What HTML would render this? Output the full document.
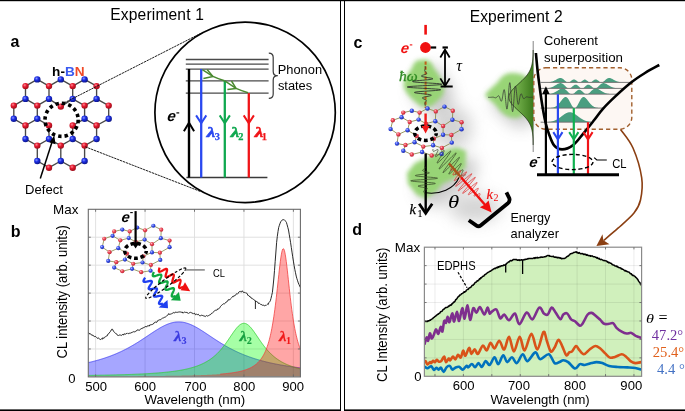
<!DOCTYPE html>
<html><head><meta charset="utf-8"><style>
html,body{margin:0;padding:0;background:#fff;}
svg{display:block;will-change:transform;}
text{white-space:pre;}
</style></head><body>
<svg width="685" height="411" viewBox="0 0 685 411">
<defs>
<radialGradient id="gR" cx="0.38" cy="0.35" r="0.7"><stop offset="0" stop-color="#ff8a96"/><stop offset="0.4" stop-color="#e41a30"/><stop offset="1" stop-color="#980a16"/></radialGradient>
<radialGradient id="gB" cx="0.38" cy="0.35" r="0.7"><stop offset="0" stop-color="#8a96ff"/><stop offset="0.4" stop-color="#1c2ee6"/><stop offset="1" stop-color="#0a1280"/></radialGradient>
<radialGradient id="gR2" cx="0.38" cy="0.35" r="0.7"><stop offset="0" stop-color="#ffc0c4"/><stop offset="0.4" stop-color="#ec4656"/><stop offset="1" stop-color="#b82434"/></radialGradient>
<radialGradient id="gB2" cx="0.38" cy="0.35" r="0.7"><stop offset="0" stop-color="#c0c8ff"/><stop offset="0.4" stop-color="#3c54ee"/><stop offset="1" stop-color="#1c2aa8"/></radialGradient>
<radialGradient id="gGlow" cx="0.5" cy="0.5" r="0.5"><stop offset="0" stop-color="#8fd46a" stop-opacity="0.95"/><stop offset="0.6" stop-color="#a8dc88" stop-opacity="0.7"/><stop offset="1" stop-color="#c8ecb4" stop-opacity="0"/></radialGradient>
<radialGradient id="gShadow" cx="0.5" cy="0.5" r="0.5"><stop offset="0" stop-color="#000" stop-opacity="0.22"/><stop offset="1" stop-color="#000" stop-opacity="0"/></radialGradient>
<linearGradient id="gProf" x1="0" y1="0" x2="1" y2="0"><stop offset="0" stop-color="#8cc860"/><stop offset="1" stop-color="#3c7a1c"/></linearGradient>
<clipPath id="clipD"><rect x="424.4" y="247.2" width="217.2" height="129.1"/></clipPath>
<filter id="blur2" x="-50%" y="-50%" width="200%" height="200%"><feGaussianBlur stdDeviation="2.2"/></filter>
<filter id="blur3" x="-50%" y="-50%" width="200%" height="200%"><feGaussianBlur stdDeviation="3"/></filter>
<filter id="blur5" x="-50%" y="-50%" width="200%" height="200%"><feGaussianBlur stdDeviation="5"/></filter>
<filter id="blur8" x="-50%" y="-50%" width="200%" height="200%"><feGaussianBlur stdDeviation="8"/></filter>
</defs>
<rect x="0" y="0" width="685" height="1.2" fill="#000"/>
<rect x="340" y="0" width="1" height="411" fill="#000"/>
<rect x="344" y="0" width="1" height="411" fill="#000"/>
<rect x="0" y="409.4" width="341" height="1.6" fill="#000"/>
<rect x="344" y="409.4" width="341" height="1.6" fill="#000"/>
<text x="110.3" y="19.8" font-family="Liberation Sans" font-size="15.6" font-weight="normal" font-style="normal" fill="#000" text-anchor="start" letter-spacing="0.15">Experiment 1</text>
<text x="469.7" y="22.1" font-family="Liberation Sans" font-size="15.6" font-weight="normal" font-style="normal" fill="#000" text-anchor="start" letter-spacing="0.1">Experiment 2</text>
<text x="10.6" y="46.6" font-family="Liberation Sans" font-size="16" font-weight="bold" font-style="normal" fill="#000" text-anchor="start" >a</text>
<text x="10.8" y="237.2" font-family="Liberation Sans" font-size="16" font-weight="bold" font-style="normal" fill="#000" text-anchor="start" >b</text>
<text x="353.6" y="48.4" font-family="Liberation Sans" font-size="16" font-weight="bold" font-style="normal" fill="#000" text-anchor="start" >c</text>
<text x="352.2" y="235.4" font-family="Liberation Sans" font-size="16" font-weight="bold" font-style="normal" fill="#000" text-anchor="start" >d</text>
<path d="M37.3,79.4L25.5,86.1M37.3,79.4L49,86.1M60.8,79.4L49,86.1M60.8,79.4L72.7,86.1M84.6,79.4L72.7,86.1M84.6,79.4L96.6,86.1M25.5,86.1L25.5,98.9M49,86.1L49,98.9M72.7,86.1L72.7,98.9M96.6,86.1L96.6,98.9M25.5,98.9L13.8,105.6M25.5,98.9L37.3,105.6M49,98.9L37.3,105.6M49,98.9L60.8,106.6M72.7,98.9L60.8,106.6M72.7,98.9L84.6,105.6M96.6,98.9L84.6,105.6M96.6,98.9L108.7,105.6M13.8,105.6L13.8,118.8M37.3,105.6L37.3,118.8M84.6,105.6L84.6,118.8M108.7,105.6L108.7,118.8M13.8,118.8L25.5,125.5M37.3,118.8L25.5,125.5M37.3,118.8L49,125.5M84.6,118.8L72.7,125.5M84.6,118.8L96.6,125.5M108.7,118.8L96.6,125.5M25.5,125.5L25.5,139M49,125.5L49,139M72.7,125.5L72.7,139M96.6,125.5L96.6,139M25.5,139L37.3,145.6M49,139L37.3,145.6M49,139L60.8,145.6M72.7,139L60.8,145.6M72.7,139L84.6,145.6M96.6,139L84.6,145.6M37.3,145.6L37.3,161M60.8,145.6L60.8,161M84.6,145.6L84.6,161M37.3,161L49,167.7M60.8,161L49,167.7M60.8,161L72.7,167.7M84.6,161L72.7,167.7" stroke="#484848" stroke-width="1.35" fill="none" />
<circle cx="37.3" cy="79.4" r="3.2" fill="url(#gB)"/>
<circle cx="60.8" cy="79.4" r="3.2" fill="url(#gB)"/>
<circle cx="84.6" cy="79.4" r="3.2" fill="url(#gB)"/>
<circle cx="25.5" cy="86.1" r="3.2" fill="url(#gR)"/>
<circle cx="49" cy="86.1" r="3.2" fill="url(#gR)"/>
<circle cx="72.7" cy="86.1" r="3.2" fill="url(#gR)"/>
<circle cx="96.6" cy="86.1" r="3.2" fill="url(#gR)"/>
<circle cx="25.5" cy="98.9" r="3.2" fill="url(#gB)"/>
<circle cx="49" cy="98.9" r="3.2" fill="url(#gB)"/>
<circle cx="72.7" cy="98.9" r="3.2" fill="url(#gB)"/>
<circle cx="96.6" cy="98.9" r="3.2" fill="url(#gB)"/>
<circle cx="13.8" cy="105.6" r="3.2" fill="url(#gR)"/>
<circle cx="37.3" cy="105.6" r="3.2" fill="url(#gR)"/>
<circle cx="60.8" cy="106.6" r="3.2" fill="url(#gR)"/>
<circle cx="84.6" cy="105.6" r="3.2" fill="url(#gR)"/>
<circle cx="108.7" cy="105.6" r="3.2" fill="url(#gR)"/>
<circle cx="13.8" cy="118.8" r="3.2" fill="url(#gB)"/>
<circle cx="37.3" cy="118.8" r="3.2" fill="url(#gB)"/>
<circle cx="84.6" cy="118.8" r="3.2" fill="url(#gB)"/>
<circle cx="108.7" cy="118.8" r="3.2" fill="url(#gB)"/>
<circle cx="25.5" cy="125.5" r="3.2" fill="url(#gR)"/>
<circle cx="49" cy="125.5" r="3.2" fill="url(#gR)"/>
<circle cx="72.7" cy="125.5" r="3.2" fill="url(#gR)"/>
<circle cx="96.6" cy="125.5" r="3.2" fill="url(#gR)"/>
<circle cx="25.5" cy="139" r="3.2" fill="url(#gB)"/>
<circle cx="49" cy="139" r="3.2" fill="url(#gB)"/>
<circle cx="72.7" cy="139" r="3.2" fill="url(#gB)"/>
<circle cx="96.6" cy="139" r="3.2" fill="url(#gB)"/>
<circle cx="37.3" cy="145.6" r="3.2" fill="url(#gR)"/>
<circle cx="60.8" cy="145.6" r="3.2" fill="url(#gR)"/>
<circle cx="84.6" cy="145.6" r="3.2" fill="url(#gR)"/>
<circle cx="37.3" cy="161" r="3.2" fill="url(#gB)"/>
<circle cx="60.8" cy="161" r="3.2" fill="url(#gB)"/>
<circle cx="84.6" cy="161" r="3.2" fill="url(#gB)"/>
<circle cx="49" cy="167.7" r="3.2" fill="url(#gR)"/>
<circle cx="72.7" cy="167.7" r="3.2" fill="url(#gR)"/>
<text x="52.1" y="75.5" font-family="Liberation Sans" font-size="13.6" font-weight="bold">h-<tspan fill="#3a5af0">B</tspan><tspan fill="#f04a28">N</tspan></text>
<circle cx="61.6" cy="119.8" r="16.6" fill="none" stroke="#000" stroke-width="3.6" stroke-dasharray="3.4,3.1"/>
<line x1="40.3" y1="178.4" x2="52.2" y2="141.5" stroke="#000" stroke-width="1.5" stroke-linecap="butt" />
<path d="M54.2,135.6 L49.4,142.6 L55.6,144.2 Z" stroke="none" stroke-width="1" fill="#000" />
<text x="25.1" y="193.9" font-family="Liberation Sans" font-size="13.05" font-weight="normal" font-style="normal" fill="#000" text-anchor="start" >Defect</text>
<line x1="61" y1="104.5" x2="200.5" y2="33.5" stroke="#111" stroke-width="0.95" stroke-linecap="butt" stroke-dasharray="2.4,0.7" />
<line x1="85.3" y1="146.8" x2="200.5" y2="191.5" stroke="#111" stroke-width="0.95" stroke-linecap="butt" stroke-dasharray="2.4,0.7" />
<circle cx="245.1" cy="112.4" r="90.2" fill="none" stroke="#000" stroke-width="1.7"/>
<line x1="185.8" y1="59.5" x2="268.6" y2="59.5" stroke="#4a4a4a" stroke-width="1.3" stroke-linecap="butt" />
<line x1="185.8" y1="64.2" x2="268.6" y2="64.2" stroke="#4a4a4a" stroke-width="1.3" stroke-linecap="butt" />
<line x1="185.8" y1="69.1" x2="268.6" y2="69.1" stroke="#4a4a4a" stroke-width="1.3" stroke-linecap="butt" />
<line x1="185.8" y1="80.8" x2="268.6" y2="80.8" stroke="#4a4a4a" stroke-width="1.3" stroke-linecap="butt" />
<line x1="185.8" y1="93.1" x2="268.6" y2="93.1" stroke="#4a4a4a" stroke-width="1.3" stroke-linecap="butt" />
<line x1="186.4" y1="177.5" x2="267.4" y2="177.5" stroke="#3a3a3a" stroke-width="1.5" stroke-linecap="butt" />
<line x1="189" y1="69" x2="189" y2="177.5" stroke="#000" stroke-width="2.4" stroke-linecap="butt" />
<line x1="201.2" y1="69" x2="201.2" y2="177.5" stroke="#2a48f0" stroke-width="2.3" stroke-linecap="butt" />
<line x1="224.8" y1="80.8" x2="224.8" y2="177.5" stroke="#10a850" stroke-width="2.3" stroke-linecap="butt" />
<line x1="248.8" y1="93.1" x2="248.8" y2="177.5" stroke="#f01418" stroke-width="2.3" stroke-linecap="butt" />
<path d="M183.9,131.2 L189,122.7 L194.1,131.2" stroke="#000" stroke-width="2" fill="none" stroke-linejoin="miter" stroke-linecap="butt"/>
<path d="M196.1,115.4 L201.2,123.2 L206.3,115.4" stroke="#2a48f0" stroke-width="2" fill="none" stroke-linejoin="miter" stroke-linecap="butt"/>
<path d="M219.7,115.4 L224.8,123.2 L229.9,115.4" stroke="#10a850" stroke-width="2" fill="none" stroke-linejoin="miter" stroke-linecap="butt"/>
<path d="M243.7,115.4 L248.8,123.2 L253.9,115.4" stroke="#f01418" stroke-width="2" fill="none" stroke-linejoin="miter" stroke-linecap="butt"/>
<path d="M202.3,69.7 L212.9,76.4 Q218,78.8 224.5,80.7" stroke="#4a8a30" stroke-width="1.5" fill="none" stroke-linejoin="round"/>
<path d="M207.1,69.4 L212.9,76.4 L203.4,78.5" stroke="#4a8a30" stroke-width="1.5" fill="none" stroke-linejoin="round"/>
<path d="M224.8,80.8 L236,88.4 Q241.5,90.8 248,92.7" stroke="#4a8a30" stroke-width="1.5" fill="none" stroke-linejoin="round"/>
<path d="M231.5,81 L236,88.4 L227.4,89.6" stroke="#4a8a30" stroke-width="1.5" fill="none" stroke-linejoin="round"/>
<path d="M268.8,53.2 Q273.2,53.2 273.2,57.6 L273.2,71.4 Q273.2,75.7 277.8,75.7 Q273.2,75.7 273.2,80 L273.2,93.9 Q273.2,98.3 268.8,98.3" stroke="#3a3a3a" stroke-width="1.2" fill="none" />
<text x="277.75" y="73.6" font-family="Liberation Sans" font-size="12.85" font-weight="normal" font-style="normal" fill="#000" text-anchor="start" >Phonon</text>
<text x="277.9" y="90.3" font-family="Liberation Sans" font-size="12.85" font-weight="normal" font-style="normal" fill="#000" text-anchor="start" >states</text>
<text transform="translate(166.79999999999998,121.4) skewX(-9)" font-family="Liberation Sans" font-weight="bold" font-style="italic" font-size="15" fill="#000">e</text>
<line x1="176.4" y1="112.9" x2="179.2" y2="112.9" stroke="#000" stroke-width="1.2" stroke-linecap="butt" />
<text transform="translate(206.75,136.9) scale(1.38,1)" font-family="Liberation Serif" font-weight="bold" font-style="italic" font-size="13.9" fill="#2a48f0" stroke="#2a48f0" stroke-width="0.55">&#955;</text>
<text x="214.69" y="139.8" font-family="Liberation Serif" font-weight="bold" font-size="10.4" fill="#2a48f0" stroke="#2a48f0" stroke-width="0.25">3</text>
<text transform="translate(230.75,136.9) scale(1.38,1)" font-family="Liberation Serif" font-weight="bold" font-style="italic" font-size="13.9" fill="#10a850" stroke="#10a850" stroke-width="0.55">&#955;</text>
<text x="238.29" y="139.8" font-family="Liberation Serif" font-weight="bold" font-size="10.4" fill="#10a850" stroke="#10a850" stroke-width="0.25">2</text>
<text transform="translate(254.75,136.9) scale(1.38,1)" font-family="Liberation Serif" font-weight="bold" font-style="italic" font-size="13.9" fill="#f01418" stroke="#f01418" stroke-width="0.55">&#955;</text>
<text x="261.67" y="139.8" font-family="Liberation Serif" font-weight="bold" font-size="10.4" fill="#f01418" stroke="#f01418" stroke-width="0.25">1</text>
<line x1="95.6" y1="209.3" x2="95.6" y2="376.9" stroke="#dedede" stroke-width="0.9" stroke-linecap="butt" />
<line x1="145.05" y1="209.3" x2="145.05" y2="376.9" stroke="#dedede" stroke-width="0.9" stroke-linecap="butt" />
<line x1="194.5" y1="209.3" x2="194.5" y2="376.9" stroke="#dedede" stroke-width="0.9" stroke-linecap="butt" />
<line x1="243.95" y1="209.3" x2="243.95" y2="376.9" stroke="#dedede" stroke-width="0.9" stroke-linecap="butt" />
<line x1="293.4" y1="209.3" x2="293.4" y2="376.9" stroke="#dedede" stroke-width="0.9" stroke-linecap="butt" />
<line x1="88.3" y1="237.23" x2="300.4" y2="237.23" stroke="#dedede" stroke-width="0.9" stroke-linecap="butt" />
<line x1="88.3" y1="265.17" x2="300.4" y2="265.17" stroke="#dedede" stroke-width="0.9" stroke-linecap="butt" />
<line x1="88.3" y1="293.1" x2="300.4" y2="293.1" stroke="#dedede" stroke-width="0.9" stroke-linecap="butt" />
<line x1="88.3" y1="321.03" x2="300.4" y2="321.03" stroke="#dedede" stroke-width="0.9" stroke-linecap="butt" />
<line x1="88.3" y1="348.97" x2="300.4" y2="348.97" stroke="#dedede" stroke-width="0.9" stroke-linecap="butt" />
<path d="M88.3,362.61 L88.8,362.49 L89.3,362.37 L89.8,362.26 L90.3,362.14 L90.8,362.02 L91.3,361.89 L91.8,361.77 L92.3,361.64 L92.8,361.52 L93.3,361.39 L93.8,361.26 L94.3,361.13 L94.8,361 L95.3,360.86 L95.8,360.73 L96.3,360.59 L96.8,360.45 L97.3,360.31 L97.8,360.17 L98.3,360.03 L98.8,359.89 L99.3,359.74 L99.8,359.59 L100.3,359.44 L100.8,359.29 L101.3,359.14 L101.8,358.98 L102.3,358.83 L102.8,358.67 L103.3,358.51 L103.8,358.35 L104.3,358.19 L104.8,358.02 L105.3,357.85 L105.8,357.69 L106.3,357.51 L106.8,357.34 L107.3,357.17 L107.8,356.99 L108.3,356.81 L108.8,356.63 L109.3,356.45 L109.8,356.27 L110.3,356.08 L110.8,355.89 L111.3,355.7 L111.8,355.51 L112.3,355.31 L112.8,355.12 L113.3,354.92 L113.8,354.72 L114.3,354.51 L114.8,354.31 L115.3,354.1 L115.8,353.89 L116.3,353.68 L116.8,353.46 L117.3,353.24 L117.8,353.03 L118.3,352.8 L118.8,352.58 L119.3,352.35 L119.8,352.13 L120.3,351.9 L120.8,351.66 L121.3,351.43 L121.8,351.19 L122.3,350.95 L122.8,350.71 L123.3,350.46 L123.8,350.21 L124.3,349.96 L124.8,349.71 L125.3,349.46 L125.8,349.2 L126.3,348.94 L126.8,348.68 L127.3,348.41 L127.8,348.14 L128.3,347.88 L128.8,347.6 L129.3,347.33 L129.8,347.05 L130.3,346.77 L130.8,346.49 L131.3,346.21 L131.8,345.92 L132.3,345.63 L132.8,345.34 L133.3,345.05 L133.8,344.76 L134.3,344.46 L134.8,344.16 L135.3,343.86 L135.8,343.55 L136.3,343.25 L136.8,342.94 L137.3,342.63 L137.8,342.32 L138.3,342 L138.8,341.69 L139.3,341.37 L139.8,341.05 L140.3,340.73 L140.8,340.41 L141.3,340.08 L141.8,339.76 L142.3,339.43 L142.8,339.1 L143.3,338.77 L143.8,338.44 L144.3,338.11 L144.8,337.78 L145.3,337.45 L145.8,337.12 L146.3,336.78 L146.8,336.45 L147.3,336.11 L147.8,335.78 L148.3,335.44 L148.8,335.11 L149.3,334.77 L149.8,334.44 L150.3,334.1 L150.8,333.77 L151.3,333.44 L151.8,333.1 L152.3,332.77 L152.8,332.44 L153.3,332.12 L153.8,331.79 L154.3,331.47 L154.8,331.14 L155.3,330.82 L155.8,330.51 L156.3,330.19 L156.8,329.88 L157.3,329.57 L157.8,329.26 L158.3,328.96 L158.8,328.66 L159.3,328.36 L159.8,328.07 L160.3,327.78 L160.8,327.5 L161.3,327.22 L161.8,326.95 L162.3,326.68 L162.8,326.42 L163.3,326.16 L163.8,325.91 L164.3,325.66 L164.8,325.42 L165.3,325.19 L165.8,324.96 L166.3,324.74 L166.8,324.53 L167.3,324.32 L167.8,324.12 L168.3,323.93 L168.8,323.74 L169.3,323.57 L169.8,323.4 L170.3,323.24 L170.8,323.09 L171.3,322.95 L171.8,322.81 L172.3,322.69 L172.8,322.57 L173.3,322.46 L173.8,322.36 L174.3,322.27 L174.8,322.19 L175.3,322.12 L175.8,322.06 L176.3,322.01 L176.8,321.97 L177.3,321.94 L177.8,321.92 L178.3,321.9 L178.8,321.9 L179.3,321.91 L179.8,321.92 L180.3,321.95 L180.8,321.99 L181.3,322.03 L181.8,322.09 L182.3,322.15 L182.8,322.23 L183.3,322.31 L183.8,322.4 L184.3,322.5 L184.8,322.62 L185.3,322.74 L185.8,322.86 L186.3,323 L186.8,323.15 L187.3,323.3 L187.8,323.47 L188.3,323.64 L188.8,323.82 L189.3,324 L189.8,324.2 L190.3,324.4 L190.8,324.61 L191.3,324.83 L191.8,325.05 L192.3,325.28 L192.8,325.52 L193.3,325.76 L193.8,326.01 L194.3,326.26 L194.8,326.52 L195.3,326.79 L195.8,327.06 L196.3,327.33 L196.8,327.61 L197.3,327.9 L197.8,328.19 L198.3,328.48 L198.8,328.78 L199.3,329.08 L199.8,329.38 L200.3,329.69 L200.8,330 L201.3,330.32 L201.8,330.63 L202.3,330.95 L202.8,331.27 L203.3,331.6 L203.8,331.92 L204.3,332.25 L204.8,332.58 L205.3,332.91 L205.8,333.24 L206.3,333.57 L206.8,333.9 L207.3,334.24 L207.8,334.57 L208.3,334.91 L208.8,335.24 L209.3,335.58 L209.8,335.91 L210.3,336.25 L210.8,336.58 L211.3,336.91 L211.8,337.25 L212.3,337.58 L212.8,337.91 L213.3,338.25 L213.8,338.58 L214.3,338.91 L214.8,339.24 L215.3,339.56 L215.8,339.89 L216.3,340.21 L216.8,340.54 L217.3,340.86 L217.8,341.18 L218.3,341.5 L218.8,341.81 L219.3,342.13 L219.8,342.44 L220.3,342.75 L220.8,343.06 L221.3,343.37 L221.8,343.67 L222.3,343.98 L222.8,344.28 L223.3,344.58 L223.8,344.87 L224.3,345.17 L224.8,345.46 L225.3,345.75 L225.8,346.04 L226.3,346.32 L226.8,346.61 L227.3,346.89 L227.8,347.16 L228.3,347.44 L228.8,347.71 L229.3,347.98 L229.8,348.25 L230.3,348.52 L230.8,348.78 L231.3,349.04 L231.8,349.3 L232.3,349.56 L232.8,349.81 L233.3,350.06 L233.8,350.31 L234.3,350.56 L234.8,350.8 L235.3,351.04 L235.8,351.28 L236.3,351.52 L236.8,351.76 L237.3,351.99 L237.8,352.22 L238.3,352.45 L238.8,352.67 L239.3,352.89 L239.8,353.11 L240.3,353.33 L240.8,353.55 L241.3,353.76 L241.8,353.97 L242.3,354.18 L242.8,354.39 L243.3,354.59 L243.8,354.8 L244.3,355 L244.8,355.19 L245.3,355.39 L245.8,355.58 L246.3,355.78 L246.8,355.97 L247.3,356.15 L247.8,356.34 L248.3,356.52 L248.8,356.7 L249.3,356.88 L249.8,357.06 L250.3,357.24 L250.8,357.41 L251.3,357.58 L251.8,357.75 L252.3,357.92 L252.8,358.09 L253.3,358.25 L253.8,358.41 L254.3,358.57 L254.8,358.73 L255.3,358.89 L255.8,359.05 L256.3,359.2 L256.8,359.35 L257.3,359.5 L257.8,359.65 L258.3,359.8 L258.8,359.94 L259.3,360.09 L259.8,360.23 L260.3,360.37 L260.8,360.51 L261.3,360.65 L261.8,360.78 L262.3,360.92 L262.8,361.05 L263.3,361.18 L263.8,361.31 L264.3,361.44 L264.8,361.57 L265.3,361.69 L265.8,361.82 L266.3,361.94 L266.8,362.06 L267.3,362.18 L267.8,362.3 L268.3,362.42 L268.8,362.54 L269.3,362.65 L269.8,362.77 L270.3,362.88 L270.8,362.99 L271.3,363.1 L271.8,363.21 L272.3,363.32 L272.8,363.43 L273.3,363.53 L273.8,363.64 L274.3,363.74 L274.8,363.84 L275.3,363.94 L275.8,364.04 L276.3,364.14 L276.8,364.24 L277.3,364.34 L277.8,364.43 L278.3,364.53 L278.8,364.62 L279.3,364.72 L279.8,364.81 L280.3,364.9 L280.8,364.99 L281.3,365.08 L281.8,365.17 L282.3,365.25 L282.8,365.34 L283.3,365.43 L283.8,365.51 L284.3,365.59 L284.8,365.68 L285.3,365.76 L285.8,365.84 L286.3,365.92 L286.8,366 L287.3,366.08 L287.8,366.16 L288.3,366.23 L288.8,366.31 L289.3,366.38 L289.8,366.46 L290.3,366.53 L290.8,366.61 L291.3,366.68 L291.8,366.75 L292.3,366.82 L292.8,366.89 L293.3,366.96 L293.8,367.03 L294.3,367.1 L294.8,367.17 L295.3,367.23 L295.8,367.3 L296.3,367.37 L296.8,367.43 L297.3,367.49 L297.8,367.56 L298.3,367.62 L298.8,367.68 L299.3,367.75 L299.8,367.81 L300.3,367.87 L300.4,376.6 L88.3,376.6 Z" stroke="none" stroke-width="1" fill="#0000ff" fill-opacity="0.35"/>
<path d="M88.3,362.61 L88.8,362.49 L89.3,362.37 L89.8,362.26 L90.3,362.14 L90.8,362.02 L91.3,361.89 L91.8,361.77 L92.3,361.64 L92.8,361.52 L93.3,361.39 L93.8,361.26 L94.3,361.13 L94.8,361 L95.3,360.86 L95.8,360.73 L96.3,360.59 L96.8,360.45 L97.3,360.31 L97.8,360.17 L98.3,360.03 L98.8,359.89 L99.3,359.74 L99.8,359.59 L100.3,359.44 L100.8,359.29 L101.3,359.14 L101.8,358.98 L102.3,358.83 L102.8,358.67 L103.3,358.51 L103.8,358.35 L104.3,358.19 L104.8,358.02 L105.3,357.85 L105.8,357.69 L106.3,357.51 L106.8,357.34 L107.3,357.17 L107.8,356.99 L108.3,356.81 L108.8,356.63 L109.3,356.45 L109.8,356.27 L110.3,356.08 L110.8,355.89 L111.3,355.7 L111.8,355.51 L112.3,355.31 L112.8,355.12 L113.3,354.92 L113.8,354.72 L114.3,354.51 L114.8,354.31 L115.3,354.1 L115.8,353.89 L116.3,353.68 L116.8,353.46 L117.3,353.24 L117.8,353.03 L118.3,352.8 L118.8,352.58 L119.3,352.35 L119.8,352.13 L120.3,351.9 L120.8,351.66 L121.3,351.43 L121.8,351.19 L122.3,350.95 L122.8,350.71 L123.3,350.46 L123.8,350.21 L124.3,349.96 L124.8,349.71 L125.3,349.46 L125.8,349.2 L126.3,348.94 L126.8,348.68 L127.3,348.41 L127.8,348.14 L128.3,347.88 L128.8,347.6 L129.3,347.33 L129.8,347.05 L130.3,346.77 L130.8,346.49 L131.3,346.21 L131.8,345.92 L132.3,345.63 L132.8,345.34 L133.3,345.05 L133.8,344.76 L134.3,344.46 L134.8,344.16 L135.3,343.86 L135.8,343.55 L136.3,343.25 L136.8,342.94 L137.3,342.63 L137.8,342.32 L138.3,342 L138.8,341.69 L139.3,341.37 L139.8,341.05 L140.3,340.73 L140.8,340.41 L141.3,340.08 L141.8,339.76 L142.3,339.43 L142.8,339.1 L143.3,338.77 L143.8,338.44 L144.3,338.11 L144.8,337.78 L145.3,337.45 L145.8,337.12 L146.3,336.78 L146.8,336.45 L147.3,336.11 L147.8,335.78 L148.3,335.44 L148.8,335.11 L149.3,334.77 L149.8,334.44 L150.3,334.1 L150.8,333.77 L151.3,333.44 L151.8,333.1 L152.3,332.77 L152.8,332.44 L153.3,332.12 L153.8,331.79 L154.3,331.47 L154.8,331.14 L155.3,330.82 L155.8,330.51 L156.3,330.19 L156.8,329.88 L157.3,329.57 L157.8,329.26 L158.3,328.96 L158.8,328.66 L159.3,328.36 L159.8,328.07 L160.3,327.78 L160.8,327.5 L161.3,327.22 L161.8,326.95 L162.3,326.68 L162.8,326.42 L163.3,326.16 L163.8,325.91 L164.3,325.66 L164.8,325.42 L165.3,325.19 L165.8,324.96 L166.3,324.74 L166.8,324.53 L167.3,324.32 L167.8,324.12 L168.3,323.93 L168.8,323.74 L169.3,323.57 L169.8,323.4 L170.3,323.24 L170.8,323.09 L171.3,322.95 L171.8,322.81 L172.3,322.69 L172.8,322.57 L173.3,322.46 L173.8,322.36 L174.3,322.27 L174.8,322.19 L175.3,322.12 L175.8,322.06 L176.3,322.01 L176.8,321.97 L177.3,321.94 L177.8,321.92 L178.3,321.9 L178.8,321.9 L179.3,321.91 L179.8,321.92 L180.3,321.95 L180.8,321.99 L181.3,322.03 L181.8,322.09 L182.3,322.15 L182.8,322.23 L183.3,322.31 L183.8,322.4 L184.3,322.5 L184.8,322.62 L185.3,322.74 L185.8,322.86 L186.3,323 L186.8,323.15 L187.3,323.3 L187.8,323.47 L188.3,323.64 L188.8,323.82 L189.3,324 L189.8,324.2 L190.3,324.4 L190.8,324.61 L191.3,324.83 L191.8,325.05 L192.3,325.28 L192.8,325.52 L193.3,325.76 L193.8,326.01 L194.3,326.26 L194.8,326.52 L195.3,326.79 L195.8,327.06 L196.3,327.33 L196.8,327.61 L197.3,327.9 L197.8,328.19 L198.3,328.48 L198.8,328.78 L199.3,329.08 L199.8,329.38 L200.3,329.69 L200.8,330 L201.3,330.32 L201.8,330.63 L202.3,330.95 L202.8,331.27 L203.3,331.6 L203.8,331.92 L204.3,332.25 L204.8,332.58 L205.3,332.91 L205.8,333.24 L206.3,333.57 L206.8,333.9 L207.3,334.24 L207.8,334.57 L208.3,334.91 L208.8,335.24 L209.3,335.58 L209.8,335.91 L210.3,336.25 L210.8,336.58 L211.3,336.91 L211.8,337.25 L212.3,337.58 L212.8,337.91 L213.3,338.25 L213.8,338.58 L214.3,338.91 L214.8,339.24 L215.3,339.56 L215.8,339.89 L216.3,340.21 L216.8,340.54 L217.3,340.86 L217.8,341.18 L218.3,341.5 L218.8,341.81 L219.3,342.13 L219.8,342.44 L220.3,342.75 L220.8,343.06 L221.3,343.37 L221.8,343.67 L222.3,343.98 L222.8,344.28 L223.3,344.58 L223.8,344.87 L224.3,345.17 L224.8,345.46 L225.3,345.75 L225.8,346.04 L226.3,346.32 L226.8,346.61 L227.3,346.89 L227.8,347.16 L228.3,347.44 L228.8,347.71 L229.3,347.98 L229.8,348.25 L230.3,348.52 L230.8,348.78 L231.3,349.04 L231.8,349.3 L232.3,349.56 L232.8,349.81 L233.3,350.06 L233.8,350.31 L234.3,350.56 L234.8,350.8 L235.3,351.04 L235.8,351.28 L236.3,351.52 L236.8,351.76 L237.3,351.99 L237.8,352.22 L238.3,352.45 L238.8,352.67 L239.3,352.89 L239.8,353.11 L240.3,353.33 L240.8,353.55 L241.3,353.76 L241.8,353.97 L242.3,354.18 L242.8,354.39 L243.3,354.59 L243.8,354.8 L244.3,355 L244.8,355.19 L245.3,355.39 L245.8,355.58 L246.3,355.78 L246.8,355.97 L247.3,356.15 L247.8,356.34 L248.3,356.52 L248.8,356.7 L249.3,356.88 L249.8,357.06 L250.3,357.24 L250.8,357.41 L251.3,357.58 L251.8,357.75 L252.3,357.92 L252.8,358.09 L253.3,358.25 L253.8,358.41 L254.3,358.57 L254.8,358.73 L255.3,358.89 L255.8,359.05 L256.3,359.2 L256.8,359.35 L257.3,359.5 L257.8,359.65 L258.3,359.8 L258.8,359.94 L259.3,360.09 L259.8,360.23 L260.3,360.37 L260.8,360.51 L261.3,360.65 L261.8,360.78 L262.3,360.92 L262.8,361.05 L263.3,361.18 L263.8,361.31 L264.3,361.44 L264.8,361.57 L265.3,361.69 L265.8,361.82 L266.3,361.94 L266.8,362.06 L267.3,362.18 L267.8,362.3 L268.3,362.42 L268.8,362.54 L269.3,362.65 L269.8,362.77 L270.3,362.88 L270.8,362.99 L271.3,363.1 L271.8,363.21 L272.3,363.32 L272.8,363.43 L273.3,363.53 L273.8,363.64 L274.3,363.74 L274.8,363.84 L275.3,363.94 L275.8,364.04 L276.3,364.14 L276.8,364.24 L277.3,364.34 L277.8,364.43 L278.3,364.53 L278.8,364.62 L279.3,364.72 L279.8,364.81 L280.3,364.9 L280.8,364.99 L281.3,365.08 L281.8,365.17 L282.3,365.25 L282.8,365.34 L283.3,365.43 L283.8,365.51 L284.3,365.59 L284.8,365.68 L285.3,365.76 L285.8,365.84 L286.3,365.92 L286.8,366 L287.3,366.08 L287.8,366.16 L288.3,366.23 L288.8,366.31 L289.3,366.38 L289.8,366.46 L290.3,366.53 L290.8,366.61 L291.3,366.68 L291.8,366.75 L292.3,366.82 L292.8,366.89 L293.3,366.96 L293.8,367.03 L294.3,367.1 L294.8,367.17 L295.3,367.23 L295.8,367.3 L296.3,367.37 L296.8,367.43 L297.3,367.49 L297.8,367.56 L298.3,367.62 L298.8,367.68 L299.3,367.75 L299.8,367.81 L300.3,367.87" stroke="#3434ee" stroke-width="0.95" fill="none" stroke-opacity="0.8"/>
<path d="M88.3,375.43 L88.8,375.42 L89.3,375.42 L89.8,375.41 L90.3,375.4 L90.8,375.39 L91.3,375.39 L91.8,375.38 L92.3,375.37 L92.8,375.36 L93.3,375.35 L93.8,375.35 L94.3,375.34 L94.8,375.33 L95.3,375.32 L95.8,375.31 L96.3,375.3 L96.8,375.3 L97.3,375.29 L97.8,375.28 L98.3,375.27 L98.8,375.26 L99.3,375.25 L99.8,375.24 L100.3,375.23 L100.8,375.22 L101.3,375.21 L101.8,375.2 L102.3,375.19 L102.8,375.19 L103.3,375.18 L103.8,375.17 L104.3,375.16 L104.8,375.15 L105.3,375.14 L105.8,375.12 L106.3,375.11 L106.8,375.1 L107.3,375.09 L107.8,375.08 L108.3,375.07 L108.8,375.06 L109.3,375.05 L109.8,375.04 L110.3,375.03 L110.8,375.02 L111.3,375 L111.8,374.99 L112.3,374.98 L112.8,374.97 L113.3,374.96 L113.8,374.94 L114.3,374.93 L114.8,374.92 L115.3,374.91 L115.8,374.89 L116.3,374.88 L116.8,374.87 L117.3,374.85 L117.8,374.84 L118.3,374.83 L118.8,374.81 L119.3,374.8 L119.8,374.79 L120.3,374.77 L120.8,374.76 L121.3,374.74 L121.8,374.73 L122.3,374.71 L122.8,374.7 L123.3,374.68 L123.8,374.67 L124.3,374.65 L124.8,374.64 L125.3,374.62 L125.8,374.6 L126.3,374.59 L126.8,374.57 L127.3,374.55 L127.8,374.54 L128.3,374.52 L128.8,374.5 L129.3,374.48 L129.8,374.47 L130.3,374.45 L130.8,374.43 L131.3,374.41 L131.8,374.39 L132.3,374.37 L132.8,374.35 L133.3,374.33 L133.8,374.32 L134.3,374.3 L134.8,374.28 L135.3,374.25 L135.8,374.23 L136.3,374.21 L136.8,374.19 L137.3,374.17 L137.8,374.15 L138.3,374.13 L138.8,374.1 L139.3,374.08 L139.8,374.06 L140.3,374.03 L140.8,374.01 L141.3,373.99 L141.8,373.96 L142.3,373.94 L142.8,373.91 L143.3,373.89 L143.8,373.86 L144.3,373.83 L144.8,373.81 L145.3,373.78 L145.8,373.75 L146.3,373.73 L146.8,373.7 L147.3,373.67 L147.8,373.64 L148.3,373.61 L148.8,373.58 L149.3,373.55 L149.8,373.52 L150.3,373.49 L150.8,373.46 L151.3,373.43 L151.8,373.39 L152.3,373.36 L152.8,373.33 L153.3,373.29 L153.8,373.26 L154.3,373.22 L154.8,373.19 L155.3,373.15 L155.8,373.12 L156.3,373.08 L156.8,373.04 L157.3,373 L157.8,372.96 L158.3,372.92 L158.8,372.88 L159.3,372.84 L159.8,372.8 L160.3,372.76 L160.8,372.72 L161.3,372.67 L161.8,372.63 L162.3,372.58 L162.8,372.54 L163.3,372.49 L163.8,372.44 L164.3,372.39 L164.8,372.34 L165.3,372.29 L165.8,372.24 L166.3,372.19 L166.8,372.14 L167.3,372.09 L167.8,372.03 L168.3,371.98 L168.8,371.92 L169.3,371.86 L169.8,371.8 L170.3,371.74 L170.8,371.68 L171.3,371.62 L171.8,371.56 L172.3,371.5 L172.8,371.43 L173.3,371.36 L173.8,371.3 L174.3,371.23 L174.8,371.16 L175.3,371.09 L175.8,371.01 L176.3,370.94 L176.8,370.86 L177.3,370.79 L177.8,370.71 L178.3,370.63 L178.8,370.55 L179.3,370.46 L179.8,370.38 L180.3,370.29 L180.8,370.2 L181.3,370.11 L181.8,370.02 L182.3,369.93 L182.8,369.83 L183.3,369.74 L183.8,369.64 L184.3,369.53 L184.8,369.43 L185.3,369.32 L185.8,369.22 L186.3,369.1 L186.8,368.99 L187.3,368.88 L187.8,368.76 L188.3,368.64 L188.8,368.51 L189.3,368.39 L189.8,368.26 L190.3,368.13 L190.8,367.99 L191.3,367.86 L191.8,367.72 L192.3,367.57 L192.8,367.43 L193.3,367.28 L193.8,367.12 L194.3,366.96 L194.8,366.8 L195.3,366.64 L195.8,366.47 L196.3,366.3 L196.8,366.12 L197.3,365.94 L197.8,365.75 L198.3,365.57 L198.8,365.37 L199.3,365.17 L199.8,364.97 L200.3,364.76 L200.8,364.55 L201.3,364.33 L201.8,364.1 L202.3,363.87 L202.8,363.64 L203.3,363.39 L203.8,363.15 L204.3,362.89 L204.8,362.63 L205.3,362.37 L205.8,362.09 L206.3,361.81 L206.8,361.52 L207.3,361.23 L207.8,360.93 L208.3,360.62 L208.8,360.3 L209.3,359.97 L209.8,359.64 L210.3,359.29 L210.8,358.94 L211.3,358.58 L211.8,358.21 L212.3,357.83 L212.8,357.44 L213.3,357.04 L213.8,356.63 L214.3,356.21 L214.8,355.78 L215.3,355.34 L215.8,354.88 L216.3,354.42 L216.8,353.95 L217.3,353.46 L217.8,352.96 L218.3,352.45 L218.8,351.93 L219.3,351.4 L219.8,350.85 L220.3,350.29 L220.8,349.72 L221.3,349.14 L221.8,348.54 L222.3,347.93 L222.8,347.32 L223.3,346.68 L223.8,346.04 L224.3,345.39 L224.8,344.72 L225.3,344.05 L225.8,343.36 L226.3,342.66 L226.8,341.96 L227.3,341.25 L227.8,340.52 L228.3,339.8 L228.8,339.06 L229.3,338.33 L229.8,337.59 L230.3,336.84 L230.8,336.1 L231.3,335.36 L231.8,334.62 L232.3,333.89 L232.8,333.16 L233.3,332.44 L233.8,331.73 L234.3,331.04 L234.8,330.35 L235.3,329.69 L235.8,329.05 L236.3,328.43 L236.8,327.83 L237.3,327.26 L237.8,326.72 L238.3,326.21 L238.8,325.74 L239.3,325.3 L239.8,324.9 L240.3,324.54 L240.8,324.23 L241.3,323.96 L241.8,323.73 L242.3,323.55 L242.8,323.42 L243.3,323.34 L243.8,323.3 L244.3,323.32 L244.8,323.38 L245.3,323.49 L245.8,323.65 L246.3,323.86 L246.8,324.11 L247.3,324.41 L247.8,324.75 L248.3,325.14 L248.8,325.56 L249.3,326.02 L249.8,326.51 L250.3,327.04 L250.8,327.6 L251.3,328.18 L251.8,328.8 L252.3,329.43 L252.8,330.09 L253.3,330.76 L253.8,331.45 L254.3,332.15 L254.8,332.87 L255.3,333.59 L255.8,334.33 L256.3,335.06 L256.8,335.8 L257.3,336.55 L257.8,337.29 L258.3,338.03 L258.8,338.77 L259.3,339.5 L259.8,340.23 L260.3,340.96 L260.8,341.67 L261.3,342.38 L261.8,343.08 L262.3,343.77 L262.8,344.45 L263.3,345.12 L263.8,345.78 L264.3,346.43 L264.8,347.06 L265.3,347.69 L265.8,348.3 L266.3,348.9 L266.8,349.49 L267.3,350.06 L267.8,350.63 L268.3,351.18 L268.8,351.72 L269.3,352.24 L269.8,352.76 L270.3,353.26 L270.8,353.75 L271.3,354.23 L271.8,354.7 L272.3,355.16 L272.8,355.6 L273.3,356.04 L273.8,356.46 L274.3,356.88 L274.8,357.28 L275.3,357.67 L275.8,358.06 L276.3,358.43 L276.8,358.8 L277.3,359.15 L277.8,359.5 L278.3,359.84 L278.8,360.17 L279.3,360.49 L279.8,360.8 L280.3,361.11 L280.8,361.41 L281.3,361.7 L281.8,361.98 L282.3,362.26 L282.8,362.53 L283.3,362.79 L283.8,363.05 L284.3,363.3 L284.8,363.54 L285.3,363.78 L285.8,364.01 L286.3,364.24 L286.8,364.46 L287.3,364.67 L287.8,364.89 L288.3,365.09 L288.8,365.29 L289.3,365.49 L289.8,365.68 L290.3,365.87 L290.8,366.05 L291.3,366.23 L291.8,366.4 L292.3,366.57 L292.8,366.74 L293.3,366.9 L293.8,367.06 L294.3,367.21 L294.8,367.37 L295.3,367.51 L295.8,367.66 L296.3,367.8 L296.8,367.94 L297.3,368.08 L297.8,368.21 L298.3,368.34 L298.8,368.46 L299.3,368.59 L299.8,368.71 L300.3,368.83 L300.4,376.6 L88.3,376.6 Z" stroke="none" stroke-width="1" fill="#00ff00" fill-opacity="0.35"/>
<path d="M88.3,375.43 L88.8,375.42 L89.3,375.42 L89.8,375.41 L90.3,375.4 L90.8,375.39 L91.3,375.39 L91.8,375.38 L92.3,375.37 L92.8,375.36 L93.3,375.35 L93.8,375.35 L94.3,375.34 L94.8,375.33 L95.3,375.32 L95.8,375.31 L96.3,375.3 L96.8,375.3 L97.3,375.29 L97.8,375.28 L98.3,375.27 L98.8,375.26 L99.3,375.25 L99.8,375.24 L100.3,375.23 L100.8,375.22 L101.3,375.21 L101.8,375.2 L102.3,375.19 L102.8,375.19 L103.3,375.18 L103.8,375.17 L104.3,375.16 L104.8,375.15 L105.3,375.14 L105.8,375.12 L106.3,375.11 L106.8,375.1 L107.3,375.09 L107.8,375.08 L108.3,375.07 L108.8,375.06 L109.3,375.05 L109.8,375.04 L110.3,375.03 L110.8,375.02 L111.3,375 L111.8,374.99 L112.3,374.98 L112.8,374.97 L113.3,374.96 L113.8,374.94 L114.3,374.93 L114.8,374.92 L115.3,374.91 L115.8,374.89 L116.3,374.88 L116.8,374.87 L117.3,374.85 L117.8,374.84 L118.3,374.83 L118.8,374.81 L119.3,374.8 L119.8,374.79 L120.3,374.77 L120.8,374.76 L121.3,374.74 L121.8,374.73 L122.3,374.71 L122.8,374.7 L123.3,374.68 L123.8,374.67 L124.3,374.65 L124.8,374.64 L125.3,374.62 L125.8,374.6 L126.3,374.59 L126.8,374.57 L127.3,374.55 L127.8,374.54 L128.3,374.52 L128.8,374.5 L129.3,374.48 L129.8,374.47 L130.3,374.45 L130.8,374.43 L131.3,374.41 L131.8,374.39 L132.3,374.37 L132.8,374.35 L133.3,374.33 L133.8,374.32 L134.3,374.3 L134.8,374.28 L135.3,374.25 L135.8,374.23 L136.3,374.21 L136.8,374.19 L137.3,374.17 L137.8,374.15 L138.3,374.13 L138.8,374.1 L139.3,374.08 L139.8,374.06 L140.3,374.03 L140.8,374.01 L141.3,373.99 L141.8,373.96 L142.3,373.94 L142.8,373.91 L143.3,373.89 L143.8,373.86 L144.3,373.83 L144.8,373.81 L145.3,373.78 L145.8,373.75 L146.3,373.73 L146.8,373.7 L147.3,373.67 L147.8,373.64 L148.3,373.61 L148.8,373.58 L149.3,373.55 L149.8,373.52 L150.3,373.49 L150.8,373.46 L151.3,373.43 L151.8,373.39 L152.3,373.36 L152.8,373.33 L153.3,373.29 L153.8,373.26 L154.3,373.22 L154.8,373.19 L155.3,373.15 L155.8,373.12 L156.3,373.08 L156.8,373.04 L157.3,373 L157.8,372.96 L158.3,372.92 L158.8,372.88 L159.3,372.84 L159.8,372.8 L160.3,372.76 L160.8,372.72 L161.3,372.67 L161.8,372.63 L162.3,372.58 L162.8,372.54 L163.3,372.49 L163.8,372.44 L164.3,372.39 L164.8,372.34 L165.3,372.29 L165.8,372.24 L166.3,372.19 L166.8,372.14 L167.3,372.09 L167.8,372.03 L168.3,371.98 L168.8,371.92 L169.3,371.86 L169.8,371.8 L170.3,371.74 L170.8,371.68 L171.3,371.62 L171.8,371.56 L172.3,371.5 L172.8,371.43 L173.3,371.36 L173.8,371.3 L174.3,371.23 L174.8,371.16 L175.3,371.09 L175.8,371.01 L176.3,370.94 L176.8,370.86 L177.3,370.79 L177.8,370.71 L178.3,370.63 L178.8,370.55 L179.3,370.46 L179.8,370.38 L180.3,370.29 L180.8,370.2 L181.3,370.11 L181.8,370.02 L182.3,369.93 L182.8,369.83 L183.3,369.74 L183.8,369.64 L184.3,369.53 L184.8,369.43 L185.3,369.32 L185.8,369.22 L186.3,369.1 L186.8,368.99 L187.3,368.88 L187.8,368.76 L188.3,368.64 L188.8,368.51 L189.3,368.39 L189.8,368.26 L190.3,368.13 L190.8,367.99 L191.3,367.86 L191.8,367.72 L192.3,367.57 L192.8,367.43 L193.3,367.28 L193.8,367.12 L194.3,366.96 L194.8,366.8 L195.3,366.64 L195.8,366.47 L196.3,366.3 L196.8,366.12 L197.3,365.94 L197.8,365.75 L198.3,365.57 L198.8,365.37 L199.3,365.17 L199.8,364.97 L200.3,364.76 L200.8,364.55 L201.3,364.33 L201.8,364.1 L202.3,363.87 L202.8,363.64 L203.3,363.39 L203.8,363.15 L204.3,362.89 L204.8,362.63 L205.3,362.37 L205.8,362.09 L206.3,361.81 L206.8,361.52 L207.3,361.23 L207.8,360.93 L208.3,360.62 L208.8,360.3 L209.3,359.97 L209.8,359.64 L210.3,359.29 L210.8,358.94 L211.3,358.58 L211.8,358.21 L212.3,357.83 L212.8,357.44 L213.3,357.04 L213.8,356.63 L214.3,356.21 L214.8,355.78 L215.3,355.34 L215.8,354.88 L216.3,354.42 L216.8,353.95 L217.3,353.46 L217.8,352.96 L218.3,352.45 L218.8,351.93 L219.3,351.4 L219.8,350.85 L220.3,350.29 L220.8,349.72 L221.3,349.14 L221.8,348.54 L222.3,347.93 L222.8,347.32 L223.3,346.68 L223.8,346.04 L224.3,345.39 L224.8,344.72 L225.3,344.05 L225.8,343.36 L226.3,342.66 L226.8,341.96 L227.3,341.25 L227.8,340.52 L228.3,339.8 L228.8,339.06 L229.3,338.33 L229.8,337.59 L230.3,336.84 L230.8,336.1 L231.3,335.36 L231.8,334.62 L232.3,333.89 L232.8,333.16 L233.3,332.44 L233.8,331.73 L234.3,331.04 L234.8,330.35 L235.3,329.69 L235.8,329.05 L236.3,328.43 L236.8,327.83 L237.3,327.26 L237.8,326.72 L238.3,326.21 L238.8,325.74 L239.3,325.3 L239.8,324.9 L240.3,324.54 L240.8,324.23 L241.3,323.96 L241.8,323.73 L242.3,323.55 L242.8,323.42 L243.3,323.34 L243.8,323.3 L244.3,323.32 L244.8,323.38 L245.3,323.49 L245.8,323.65 L246.3,323.86 L246.8,324.11 L247.3,324.41 L247.8,324.75 L248.3,325.14 L248.8,325.56 L249.3,326.02 L249.8,326.51 L250.3,327.04 L250.8,327.6 L251.3,328.18 L251.8,328.8 L252.3,329.43 L252.8,330.09 L253.3,330.76 L253.8,331.45 L254.3,332.15 L254.8,332.87 L255.3,333.59 L255.8,334.33 L256.3,335.06 L256.8,335.8 L257.3,336.55 L257.8,337.29 L258.3,338.03 L258.8,338.77 L259.3,339.5 L259.8,340.23 L260.3,340.96 L260.8,341.67 L261.3,342.38 L261.8,343.08 L262.3,343.77 L262.8,344.45 L263.3,345.12 L263.8,345.78 L264.3,346.43 L264.8,347.06 L265.3,347.69 L265.8,348.3 L266.3,348.9 L266.8,349.49 L267.3,350.06 L267.8,350.63 L268.3,351.18 L268.8,351.72 L269.3,352.24 L269.8,352.76 L270.3,353.26 L270.8,353.75 L271.3,354.23 L271.8,354.7 L272.3,355.16 L272.8,355.6 L273.3,356.04 L273.8,356.46 L274.3,356.88 L274.8,357.28 L275.3,357.67 L275.8,358.06 L276.3,358.43 L276.8,358.8 L277.3,359.15 L277.8,359.5 L278.3,359.84 L278.8,360.17 L279.3,360.49 L279.8,360.8 L280.3,361.11 L280.8,361.41 L281.3,361.7 L281.8,361.98 L282.3,362.26 L282.8,362.53 L283.3,362.79 L283.8,363.05 L284.3,363.3 L284.8,363.54 L285.3,363.78 L285.8,364.01 L286.3,364.24 L286.8,364.46 L287.3,364.67 L287.8,364.89 L288.3,365.09 L288.8,365.29 L289.3,365.49 L289.8,365.68 L290.3,365.87 L290.8,366.05 L291.3,366.23 L291.8,366.4 L292.3,366.57 L292.8,366.74 L293.3,366.9 L293.8,367.06 L294.3,367.21 L294.8,367.37 L295.3,367.51 L295.8,367.66 L296.3,367.8 L296.8,367.94 L297.3,368.08 L297.8,368.21 L298.3,368.34 L298.8,368.46 L299.3,368.59 L299.8,368.71 L300.3,368.83" stroke="#2ccc2c" stroke-width="0.95" fill="none" stroke-opacity="0.8"/>
<path d="M88.3,376.33 L88.8,376.33 L89.3,376.33 L89.8,376.33 L90.3,376.33 L90.8,376.33 L91.3,376.33 L91.8,376.32 L92.3,376.32 L92.8,376.32 L93.3,376.32 L93.8,376.32 L94.3,376.32 L94.8,376.32 L95.3,376.31 L95.8,376.31 L96.3,376.31 L96.8,376.31 L97.3,376.31 L97.8,376.31 L98.3,376.3 L98.8,376.3 L99.3,376.3 L99.8,376.3 L100.3,376.3 L100.8,376.3 L101.3,376.29 L101.8,376.29 L102.3,376.29 L102.8,376.29 L103.3,376.29 L103.8,376.29 L104.3,376.28 L104.8,376.28 L105.3,376.28 L105.8,376.28 L106.3,376.28 L106.8,376.28 L107.3,376.27 L107.8,376.27 L108.3,376.27 L108.8,376.27 L109.3,376.27 L109.8,376.26 L110.3,376.26 L110.8,376.26 L111.3,376.26 L111.8,376.26 L112.3,376.25 L112.8,376.25 L113.3,376.25 L113.8,376.25 L114.3,376.25 L114.8,376.24 L115.3,376.24 L115.8,376.24 L116.3,376.24 L116.8,376.24 L117.3,376.23 L117.8,376.23 L118.3,376.23 L118.8,376.23 L119.3,376.22 L119.8,376.22 L120.3,376.22 L120.8,376.22 L121.3,376.21 L121.8,376.21 L122.3,376.21 L122.8,376.21 L123.3,376.21 L123.8,376.2 L124.3,376.2 L124.8,376.2 L125.3,376.2 L125.8,376.19 L126.3,376.19 L126.8,376.19 L127.3,376.18 L127.8,376.18 L128.3,376.18 L128.8,376.18 L129.3,376.17 L129.8,376.17 L130.3,376.17 L130.8,376.17 L131.3,376.16 L131.8,376.16 L132.3,376.16 L132.8,376.15 L133.3,376.15 L133.8,376.15 L134.3,376.14 L134.8,376.14 L135.3,376.14 L135.8,376.14 L136.3,376.13 L136.8,376.13 L137.3,376.13 L137.8,376.12 L138.3,376.12 L138.8,376.12 L139.3,376.11 L139.8,376.11 L140.3,376.11 L140.8,376.1 L141.3,376.1 L141.8,376.1 L142.3,376.09 L142.8,376.09 L143.3,376.08 L143.8,376.08 L144.3,376.08 L144.8,376.07 L145.3,376.07 L145.8,376.07 L146.3,376.06 L146.8,376.06 L147.3,376.05 L147.8,376.05 L148.3,376.05 L148.8,376.04 L149.3,376.04 L149.8,376.03 L150.3,376.03 L150.8,376.03 L151.3,376.02 L151.8,376.02 L152.3,376.01 L152.8,376.01 L153.3,376 L153.8,376 L154.3,375.99 L154.8,375.99 L155.3,375.98 L155.8,375.98 L156.3,375.97 L156.8,375.97 L157.3,375.96 L157.8,375.96 L158.3,375.95 L158.8,375.95 L159.3,375.94 L159.8,375.94 L160.3,375.93 L160.8,375.93 L161.3,375.92 L161.8,375.92 L162.3,375.91 L162.8,375.91 L163.3,375.9 L163.8,375.89 L164.3,375.89 L164.8,375.88 L165.3,375.88 L165.8,375.87 L166.3,375.86 L166.8,375.86 L167.3,375.85 L167.8,375.84 L168.3,375.84 L168.8,375.83 L169.3,375.82 L169.8,375.82 L170.3,375.81 L170.8,375.8 L171.3,375.8 L171.8,375.79 L172.3,375.78 L172.8,375.77 L173.3,375.77 L173.8,375.76 L174.3,375.75 L174.8,375.74 L175.3,375.74 L175.8,375.73 L176.3,375.72 L176.8,375.71 L177.3,375.7 L177.8,375.7 L178.3,375.69 L178.8,375.68 L179.3,375.67 L179.8,375.66 L180.3,375.65 L180.8,375.64 L181.3,375.63 L181.8,375.62 L182.3,375.61 L182.8,375.6 L183.3,375.59 L183.8,375.58 L184.3,375.57 L184.8,375.56 L185.3,375.55 L185.8,375.54 L186.3,375.53 L186.8,375.52 L187.3,375.51 L187.8,375.5 L188.3,375.49 L188.8,375.47 L189.3,375.46 L189.8,375.45 L190.3,375.44 L190.8,375.43 L191.3,375.41 L191.8,375.4 L192.3,375.39 L192.8,375.37 L193.3,375.36 L193.8,375.35 L194.3,375.33 L194.8,375.32 L195.3,375.3 L195.8,375.29 L196.3,375.27 L196.8,375.26 L197.3,375.24 L197.8,375.23 L198.3,375.21 L198.8,375.2 L199.3,375.18 L199.8,375.16 L200.3,375.14 L200.8,375.13 L201.3,375.11 L201.8,375.09 L202.3,375.07 L202.8,375.05 L203.3,375.04 L203.8,375.02 L204.3,375 L204.8,374.98 L205.3,374.95 L205.8,374.93 L206.3,374.91 L206.8,374.89 L207.3,374.87 L207.8,374.85 L208.3,374.82 L208.8,374.8 L209.3,374.77 L209.8,374.75 L210.3,374.73 L210.8,374.7 L211.3,374.67 L211.8,374.65 L212.3,374.62 L212.8,374.59 L213.3,374.56 L213.8,374.53 L214.3,374.51 L214.8,374.48 L215.3,374.44 L215.8,374.41 L216.3,374.38 L216.8,374.35 L217.3,374.31 L217.8,374.28 L218.3,374.24 L218.8,374.21 L219.3,374.17 L219.8,374.13 L220.3,374.1 L220.8,374.06 L221.3,374.02 L221.8,373.97 L222.3,373.93 L222.8,373.89 L223.3,373.84 L223.8,373.8 L224.3,373.75 L224.8,373.7 L225.3,373.66 L225.8,373.61 L226.3,373.55 L226.8,373.5 L227.3,373.45 L227.8,373.39 L228.3,373.33 L228.8,373.28 L229.3,373.21 L229.8,373.15 L230.3,373.09 L230.8,373.02 L231.3,372.96 L231.8,372.89 L232.3,372.82 L232.8,372.74 L233.3,372.67 L233.8,372.59 L234.3,372.51 L234.8,372.43 L235.3,372.35 L235.8,372.26 L236.3,372.17 L236.8,372.08 L237.3,371.98 L237.8,371.88 L238.3,371.78 L238.8,371.68 L239.3,371.57 L239.8,371.46 L240.3,371.34 L240.8,371.22 L241.3,371.1 L241.8,370.97 L242.3,370.84 L242.8,370.7 L243.3,370.56 L243.8,370.42 L244.3,370.26 L244.8,370.11 L245.3,369.94 L245.8,369.77 L246.3,369.6 L246.8,369.42 L247.3,369.23 L247.8,369.03 L248.3,368.83 L248.8,368.61 L249.3,368.39 L249.8,368.16 L250.3,367.92 L250.8,367.67 L251.3,367.41 L251.8,367.14 L252.3,366.85 L252.8,366.56 L253.3,366.25 L253.8,365.92 L254.3,365.58 L254.8,365.23 L255.3,364.85 L255.8,364.46 L256.3,364.06 L256.8,363.63 L257.3,363.17 L257.8,362.7 L258.3,362.2 L258.8,361.68 L259.3,361.13 L259.8,360.54 L260.3,359.93 L260.8,359.28 L261.3,358.6 L261.8,357.87 L262.3,357.11 L262.8,356.3 L263.3,355.44 L263.8,354.53 L264.3,353.57 L264.8,352.54 L265.3,351.45 L265.8,350.3 L266.3,349.06 L266.8,347.75 L267.3,346.35 L267.8,344.86 L268.3,343.27 L268.8,341.57 L269.3,339.76 L269.8,337.82 L270.3,335.75 L270.8,333.54 L271.3,331.18 L271.8,328.65 L272.3,325.96 L272.8,323.09 L273.3,320.02 L273.8,316.77 L274.3,313.32 L274.8,309.66 L275.3,305.8 L275.8,301.75 L276.3,297.52 L276.8,293.12 L277.3,288.6 L277.8,283.97 L278.3,279.31 L278.8,274.66 L279.3,270.11 L279.8,265.74 L280.3,261.66 L280.8,257.96 L281.3,254.75 L281.8,252.14 L282.3,250.2 L282.8,249 L283.3,248.6 L283.8,249 L284.3,250.2 L284.8,252.14 L285.3,254.75 L285.8,257.96 L286.3,261.66 L286.8,265.74 L287.3,270.11 L287.8,274.66 L288.3,279.31 L288.8,283.97 L289.3,288.6 L289.8,293.12 L290.3,297.52 L290.8,301.75 L291.3,305.8 L291.8,309.66 L292.3,313.32 L292.8,316.77 L293.3,320.02 L293.8,323.09 L294.3,325.96 L294.8,328.65 L295.3,331.18 L295.8,333.54 L296.3,335.75 L296.8,337.82 L297.3,339.76 L297.8,341.57 L298.3,343.27 L298.8,344.86 L299.3,346.35 L299.8,347.75 L300.3,349.06 L300.4,376.6 L88.3,376.6 Z" stroke="none" stroke-width="1" fill="#ff0000" fill-opacity="0.35"/>
<path d="M220.3,374.1 L220.8,374.06 L221.3,374.02 L221.8,373.97 L222.3,373.93 L222.8,373.89 L223.3,373.84 L223.8,373.8 L224.3,373.75 L224.8,373.7 L225.3,373.66 L225.8,373.61 L226.3,373.55 L226.8,373.5 L227.3,373.45 L227.8,373.39 L228.3,373.33 L228.8,373.28 L229.3,373.21 L229.8,373.15 L230.3,373.09 L230.8,373.02 L231.3,372.96 L231.8,372.89 L232.3,372.82 L232.8,372.74 L233.3,372.67 L233.8,372.59 L234.3,372.51 L234.8,372.43 L235.3,372.35 L235.8,372.26 L236.3,372.17 L236.8,372.08 L237.3,371.98 L237.8,371.88 L238.3,371.78 L238.8,371.68 L239.3,371.57 L239.8,371.46 L240.3,371.34 L240.8,371.22 L241.3,371.1 L241.8,370.97 L242.3,370.84 L242.8,370.7 L243.3,370.56 L243.8,370.42 L244.3,370.26 L244.8,370.11 L245.3,369.94 L245.8,369.77 L246.3,369.6 L246.8,369.42 L247.3,369.23 L247.8,369.03 L248.3,368.83 L248.8,368.61 L249.3,368.39 L249.8,368.16 L250.3,367.92 L250.8,367.67 L251.3,367.41 L251.8,367.14 L252.3,366.85 L252.8,366.56 L253.3,366.25 L253.8,365.92 L254.3,365.58 L254.8,365.23 L255.3,364.85 L255.8,364.46 L256.3,364.06 L256.8,363.63 L257.3,363.17 L257.8,362.7 L258.3,362.2 L258.8,361.68 L259.3,361.13 L259.8,360.54 L260.3,359.93 L260.8,359.28 L261.3,358.6 L261.8,357.87 L262.3,357.11 L262.8,356.3 L263.3,355.44 L263.8,354.53 L264.3,353.57 L264.8,352.54 L265.3,351.45 L265.8,350.3 L266.3,349.06 L266.8,347.75 L267.3,346.35 L267.8,344.86 L268.3,343.27 L268.8,341.57 L269.3,339.76 L269.8,337.82 L270.3,335.75 L270.8,333.54 L271.3,331.18 L271.8,328.65 L272.3,325.96 L272.8,323.09 L273.3,320.02 L273.8,316.77 L274.3,313.32 L274.8,309.66 L275.3,305.8 L275.8,301.75 L276.3,297.52 L276.8,293.12 L277.3,288.6 L277.8,283.97 L278.3,279.31 L278.8,274.66 L279.3,270.11 L279.8,265.74 L280.3,261.66 L280.8,257.96 L281.3,254.75 L281.8,252.14 L282.3,250.2 L282.8,249 L283.3,248.6 L283.8,249 L284.3,250.2 L284.8,252.14 L285.3,254.75 L285.8,257.96 L286.3,261.66 L286.8,265.74 L287.3,270.11 L287.8,274.66 L288.3,279.31 L288.8,283.97 L289.3,288.6 L289.8,293.12 L290.3,297.52 L290.8,301.75 L291.3,305.8 L291.8,309.66 L292.3,313.32 L292.8,316.77 L293.3,320.02 L293.8,323.09 L294.3,325.96 L294.8,328.65 L295.3,331.18 L295.8,333.54 L296.3,335.75 L296.8,337.82 L297.3,339.76 L297.8,341.57 L298.3,343.27 L298.8,344.86 L299.3,346.35 L299.8,347.75 L300.3,349.06" stroke="#f03a3a" stroke-width="0.95" fill="none" stroke-opacity="0.8"/>
<path d="M88.3,332.75 L89,332.94 L89.7,334.07 L90.4,333.69 L91.1,334.77 L91.8,334.96 L92.5,334.96 L93.2,336.02 L93.9,335.79 L94.6,336.66 L95.3,336.45 L96,336.78 L96.7,337.54 L97.4,338.4 L98.1,337.71 L98.8,338.15 L99.5,339.01 L100.2,339.76 L100.9,339.28 L101.6,338.73 L102.3,339.24 L103,337.64 L103.7,338.48 L104.4,337.39 L105.1,336.89 L105.8,336.55 L106.5,336.09 L107.2,335.9 L107.9,334.11 L108.6,333.77 L109.3,332.95 L110,331.75 L110.7,331.19 L111.4,329.71 L112.1,328.9 L112.8,329.8 L113.5,331.4 L114.2,331.99 L114.9,332.56 L115.6,333.5 L116.3,333.87 L117,334.22 L117.7,335.47 L118.4,335.54 L119.1,334.83 L119.8,335.22 L120.5,335.09 L121.2,335.48 L121.9,335.12 L122.6,334.35 L123.3,335.16 L124,333.8 L124.7,334.06 L125.4,334.38 L126.1,333.38 L126.8,333.7 L127.5,332.91 L128.2,333.64 L128.9,333.61 L129.6,333.19 L130.3,333.42 L131,332.38 L131.7,332.67 L132.4,332.27 L133.1,332 L133.8,331.58 L134.5,331.87 L135.2,331.77 L135.9,330.86 L136.6,330.87 L137.3,329.77 L138,330.39 L138.7,330.04 L139.4,330.25 L140.1,329.74 L140.8,328.71 L141.5,328.58 L142.2,328.7 L142.9,327.53 L143.6,327.86 L144.3,327.17 L145,326.81 L145.7,326.44 L146.4,327.15 L147.1,325.97 L147.8,325.85 L148.5,325.76 L149.2,326.15 L149.9,324.75 L150.6,324.9 L151.3,324.65 L152,324.74 L152.7,324.26 L153.4,323.94 L154.1,322.73 L154.8,322.54 L155.5,322.08 L156.2,322.43 L156.9,322.18 L157.6,320.69 L158.3,320.36 L159,320.08 L159.7,319.72 L160.4,319.71 L161.1,319.5 L161.8,318.68 L162.5,317.96 L163.2,318.1 L163.9,317.52 L164.6,317.29 L165.3,317.32 L166,316.44 L166.7,315.69 L167.4,315.33 L168.1,314.9 L168.8,313.52 L169.5,314.46 L170.2,314.15 L170.9,314.14 L171.6,313.9 L172.3,313.19 L173,313.06 L173.7,312.5 L174.4,313.11 L175.1,312.18 L175.8,312.16 L176.5,312.33 L177.2,312.23 L177.9,312.45 L178.6,312.02 L179.3,311.92 L180,312.1 L180.7,312 L181.4,312.33 L182.1,311.84 L182.8,313.05 L183.5,312.72 L184.2,312.09 L184.9,312.26 L185.6,312.42 L186.3,312.47 L187,312.16 L187.7,313.2 L188.4,313.43 L189.1,312.72 L189.8,312.77 L190.5,312.35 L191.2,312.54 L191.9,313.05 L192.6,313.12 L193.3,314.09 L194,313.33 L194.7,313.31 L195.4,314.78 L196.1,314.36 L196.8,314.01 L197.5,314.74 L198.2,314.18 L198.9,315.01 L199.6,315.78 L200.3,315.75 L201,315.65 L201.7,315.18 L202.4,315.46 L203.1,315.31 L203.8,316.3 L204.5,316.1 L205.2,316.58 L205.9,316.02 L206.6,315.55 L207.3,316.06 L208,315.99 L208.7,315.48 L209.4,315.1 L210.1,314.8 L210.8,314.38 L211.5,313.34 L212.2,313.36 L212.9,312.57 L213.6,311.54 L214.3,310.97 L215,310.75 L215.7,310.16 L216.4,310.19 L217.1,310 L217.8,308.71 L218.5,308.83 L219.2,308.33 L219.9,307.72 L220.6,306.32 L221.3,305.55 L222,304.99 L222.7,304.38 L223.4,303.82 L224.1,303.84 L224.8,303.66 L225.5,303.01 L226.2,301.93 L226.9,301.61 L227.6,301.24 L228.3,299.68 L229,299.94 L229.7,299.74 L230.4,299.01 L231.1,298.41 L231.8,297.48 L232.5,296.51 L233.2,296.82 L233.9,295.63 L234.6,295.74 L235.3,295.47 L236,294.21 L236.7,293.77 L237.4,294.09 L238.1,293.33 L238.8,292.11 L239.5,291.6 L240.2,291.26 L240.9,292.15 L241.6,291.85 L242.3,290.75 L243,291.92 L243.7,292.52 L244.4,292.44 L245.1,292.38 L245.8,293.17 L246.5,293.15 L247.2,293.56 L247.9,295.46 L248.6,295.58 L249.3,295.97 L250,297.11 L250.7,297.04 L251.4,298.28 L252.1,298.85 L252.8,298.62 L253.5,299.3 L254.2,299.99 L254.9,300.55 L255.6,301.46 L256.3,301.39 L257,302.01 L257.7,302 L258.4,303.48 L259.1,303.09 L259.8,303.63 L260.5,304.12 L261.2,304.85 L261.9,304.46 L262.6,305.44 L263.3,305.15 L264,305.47 L264.7,305.75 L265.4,305.33 L266.1,305.51 L266.8,304.75 L267.5,304.09 L268.2,304.6 L268.9,302.6 L269.6,301.9 L270.3,300.82 L271,298.38 L271.7,295.4 L272.4,292.43 L273.1,286 L273.8,279 L274.5,270.46 L275.2,261.31 L275.9,252 L276.6,242.67 L277.3,236.47 L278,231.53 L278.7,227.4 L279.4,225.3 L280.1,223.2 L280.8,221.64 L281.5,220.8 L282.2,219.96 L282.9,219.64 L283.6,219.71 L284.3,219.78 L285,220.47 L285.7,221.42 L286.4,222.36 L287.1,224.75 L287.8,227.37 L288.5,230 L289.2,234.2 L289.9,238.4 L290.6,242.67 L291.3,247.4 L292,252.12 L292.7,256.75 L293.4,261.12 L294.1,265.5 L294.8,269.42 L295.5,272.75 L296.2,276.07 L296.9,278.7 L297.6,280.8 L298.3,282.9 L299,284.55 L299.7,286.03 L300.4,287.5" stroke="#111" stroke-width="0.9" fill="none" />
<line x1="255.4" y1="300.5" x2="255.4" y2="309" stroke="#111" stroke-width="0.9" stroke-linecap="butt" />
<rect x="88.3" y="209.3" width="212.1" height="167.6" fill="none" stroke="#6a6a6a" stroke-width="1.1"/>
<line x1="88.3" y1="237.23" x2="90.8" y2="237.23" stroke="#6a6a6a" stroke-width="0.9" stroke-linecap="butt" />
<line x1="297.9" y1="237.23" x2="300.4" y2="237.23" stroke="#6a6a6a" stroke-width="0.9" stroke-linecap="butt" />
<line x1="88.3" y1="265.17" x2="90.8" y2="265.17" stroke="#6a6a6a" stroke-width="0.9" stroke-linecap="butt" />
<line x1="297.9" y1="265.17" x2="300.4" y2="265.17" stroke="#6a6a6a" stroke-width="0.9" stroke-linecap="butt" />
<line x1="88.3" y1="293.1" x2="90.8" y2="293.1" stroke="#6a6a6a" stroke-width="0.9" stroke-linecap="butt" />
<line x1="297.9" y1="293.1" x2="300.4" y2="293.1" stroke="#6a6a6a" stroke-width="0.9" stroke-linecap="butt" />
<line x1="88.3" y1="321.03" x2="90.8" y2="321.03" stroke="#6a6a6a" stroke-width="0.9" stroke-linecap="butt" />
<line x1="297.9" y1="321.03" x2="300.4" y2="321.03" stroke="#6a6a6a" stroke-width="0.9" stroke-linecap="butt" />
<line x1="88.3" y1="348.97" x2="90.8" y2="348.97" stroke="#6a6a6a" stroke-width="0.9" stroke-linecap="butt" />
<line x1="297.9" y1="348.97" x2="300.4" y2="348.97" stroke="#6a6a6a" stroke-width="0.9" stroke-linecap="butt" />
<line x1="95.6" y1="209.3" x2="95.6" y2="211.8" stroke="#6a6a6a" stroke-width="0.9" stroke-linecap="butt" />
<line x1="95.6" y1="374.4" x2="95.6" y2="376.9" stroke="#6a6a6a" stroke-width="0.9" stroke-linecap="butt" />
<line x1="145.05" y1="209.3" x2="145.05" y2="211.8" stroke="#6a6a6a" stroke-width="0.9" stroke-linecap="butt" />
<line x1="145.05" y1="374.4" x2="145.05" y2="376.9" stroke="#6a6a6a" stroke-width="0.9" stroke-linecap="butt" />
<line x1="194.5" y1="209.3" x2="194.5" y2="211.8" stroke="#6a6a6a" stroke-width="0.9" stroke-linecap="butt" />
<line x1="194.5" y1="374.4" x2="194.5" y2="376.9" stroke="#6a6a6a" stroke-width="0.9" stroke-linecap="butt" />
<line x1="243.95" y1="209.3" x2="243.95" y2="211.8" stroke="#6a6a6a" stroke-width="0.9" stroke-linecap="butt" />
<line x1="243.95" y1="374.4" x2="243.95" y2="376.9" stroke="#6a6a6a" stroke-width="0.9" stroke-linecap="butt" />
<line x1="293.4" y1="209.3" x2="293.4" y2="211.8" stroke="#6a6a6a" stroke-width="0.9" stroke-linecap="butt" />
<line x1="293.4" y1="374.4" x2="293.4" y2="376.9" stroke="#6a6a6a" stroke-width="0.9" stroke-linecap="butt" />
<text x="53.1" y="214.2" font-family="Liberation Sans" font-size="13.4" font-weight="normal" font-style="normal" fill="#000" text-anchor="start" >Max</text>
<text x="68.3" y="382.9" font-family="Liberation Sans" font-size="13.1" font-weight="normal" font-style="normal" fill="#000" text-anchor="start" >0</text>
<text x="96.2" y="391.2" font-family="Liberation Sans" font-size="13.1" font-weight="normal" font-style="normal" fill="#000" text-anchor="middle" >500</text>
<text x="145.2" y="391.2" font-family="Liberation Sans" font-size="13.1" font-weight="normal" font-style="normal" fill="#000" text-anchor="middle" >600</text>
<text x="195.5" y="391.2" font-family="Liberation Sans" font-size="13.1" font-weight="normal" font-style="normal" fill="#000" text-anchor="middle" >700</text>
<text x="244.3" y="391.2" font-family="Liberation Sans" font-size="13.1" font-weight="normal" font-style="normal" fill="#000" text-anchor="middle" >800</text>
<text x="293.2" y="391.2" font-family="Liberation Sans" font-size="13.1" font-weight="normal" font-style="normal" fill="#000" text-anchor="middle" >900</text>
<text x="144.5" y="404.1" font-family="Liberation Sans" font-size="13.3" font-weight="normal" font-style="normal" fill="#000" text-anchor="start" >Wavelength (nm)</text>
<text transform="translate(67.3,358.4) rotate(-90) scale(0.93,1)" font-family="Liberation Sans" font-size="14" x="0" y="0">CL intensity (arb. units)</text>
<text transform="translate(174.07,341.1) scale(1.21,1)" font-family="Liberation Serif" font-weight="bold" font-style="italic" font-size="13.9" fill="#3a3ae0" stroke="#3a3ae0" stroke-width="0.25">&#955;</text>
<text x="181.39" y="343.6" font-family="Liberation Serif" font-weight="bold" font-size="10.2" fill="#3a3ae0" stroke="#3a3ae0" stroke-width="0.11">3</text>
<text transform="translate(239.57,341.1) scale(1.21,1)" font-family="Liberation Serif" font-weight="bold" font-style="italic" font-size="13.9" fill="#18a040" stroke="#18a040" stroke-width="0.25">&#955;</text>
<text x="246.69" y="343.6" font-family="Liberation Serif" font-weight="bold" font-size="10.2" fill="#18a040" stroke="#18a040" stroke-width="0.11">2</text>
<text transform="translate(279.07,341.1) scale(1.21,1)" font-family="Liberation Serif" font-weight="bold" font-style="italic" font-size="13.9" fill="#f01a1a" stroke="#f01a1a" stroke-width="0.25">&#955;</text>
<text x="285.89" y="343.6" font-family="Liberation Serif" font-weight="bold" font-size="10.2" fill="#f01a1a" stroke="#f01a1a" stroke-width="0.11">1</text>
<path d="M122.29,229.62L114.21,231.43M122.29,229.62L129.7,231.43M137.2,227.54L129.7,231.43M137.2,227.54L145.09,230.29M153.35,225.73L145.09,230.29M153.35,225.73L161.24,229.72M114.21,231.43L112.6,235.8M129.7,231.43L128.75,238.08M145.09,230.29L144.61,239.6M161.24,229.72L160.85,238.18M112.6,235.8L104.24,238.75M112.6,235.8L120.29,240.36M128.75,238.08L120.29,240.36M128.75,238.08L135.8,241.92M144.61,239.6L135.8,241.92M144.61,239.6L152.02,244.16M160.85,238.18L152.02,244.16M160.85,238.18L169.6,240.55M104.24,238.75L102.15,247.11M120.29,240.36L118.3,248.15M152.02,244.16L152.02,252.43M169.6,240.55L169.6,247.2M102.15,247.11L109.55,252.14M118.3,248.15L109.55,252.14M118.3,248.15L126.94,253.57M152.02,252.43L143.28,256.23M152.02,252.43L159.9,252.71M169.6,247.2L159.9,252.71M109.55,252.14L108.23,260.88M126.94,253.57L124.95,259.55M143.28,256.23L142.52,262.5M159.9,252.71L160.29,259.93M108.23,260.88L116.3,262.21M124.95,259.55L116.3,262.21M124.95,259.55L133.21,263.73M142.52,262.5L133.21,263.73M142.52,262.5L150.88,264.97M160.29,259.93L150.88,264.97M116.3,262.21L114.21,267.62M133.21,263.73L132.07,268.86M150.88,264.97L150.6,270.76M114.21,267.62L122.29,271.24M132.07,268.86L122.29,271.24M132.07,268.86L141.19,272.19M150.6,270.76L141.19,272.19" stroke="#8c8c50" stroke-width="0.85" fill="none" />
<circle cx="122.29" cy="229.62" r="2.1" fill="url(#gB2)"/>
<circle cx="137.2" cy="227.54" r="2.1" fill="url(#gB2)"/>
<circle cx="153.35" cy="225.73" r="2.1" fill="url(#gB2)"/>
<circle cx="114.21" cy="231.43" r="2.1" fill="url(#gR2)"/>
<circle cx="129.7" cy="231.43" r="2.1" fill="url(#gR2)"/>
<circle cx="145.09" cy="230.29" r="2.1" fill="url(#gR2)"/>
<circle cx="161.24" cy="229.72" r="2.1" fill="url(#gR2)"/>
<circle cx="112.6" cy="235.8" r="2.1" fill="url(#gB2)"/>
<circle cx="128.75" cy="238.08" r="2.1" fill="url(#gB2)"/>
<circle cx="144.61" cy="239.6" r="2.1" fill="url(#gB2)"/>
<circle cx="160.85" cy="238.18" r="2.1" fill="url(#gB2)"/>
<circle cx="104.24" cy="238.75" r="2.1" fill="url(#gR2)"/>
<circle cx="120.29" cy="240.36" r="2.1" fill="url(#gR2)"/>
<circle cx="135.8" cy="241.92" r="2.1" fill="url(#gR2)"/>
<circle cx="152.02" cy="244.16" r="2.1" fill="url(#gR2)"/>
<circle cx="169.6" cy="240.55" r="2.1" fill="url(#gR2)"/>
<circle cx="102.15" cy="247.11" r="2.1" fill="url(#gB2)"/>
<circle cx="118.3" cy="248.15" r="2.1" fill="url(#gB2)"/>
<circle cx="152.02" cy="252.43" r="2.1" fill="url(#gB2)"/>
<circle cx="169.6" cy="247.2" r="2.1" fill="url(#gB2)"/>
<circle cx="109.55" cy="252.14" r="2.1" fill="url(#gR2)"/>
<circle cx="126.94" cy="253.57" r="2.1" fill="url(#gR2)"/>
<circle cx="143.28" cy="256.23" r="2.1" fill="url(#gR2)"/>
<circle cx="159.9" cy="252.71" r="2.1" fill="url(#gR2)"/>
<circle cx="108.23" cy="260.88" r="2.1" fill="url(#gB2)"/>
<circle cx="124.95" cy="259.55" r="2.1" fill="url(#gB2)"/>
<circle cx="142.52" cy="262.5" r="2.1" fill="url(#gB2)"/>
<circle cx="160.29" cy="259.93" r="2.1" fill="url(#gB2)"/>
<circle cx="116.3" cy="262.21" r="2.1" fill="url(#gR2)"/>
<circle cx="133.21" cy="263.73" r="2.1" fill="url(#gR2)"/>
<circle cx="150.88" cy="264.97" r="2.1" fill="url(#gR2)"/>
<circle cx="114.21" cy="267.62" r="2.1" fill="url(#gB2)"/>
<circle cx="132.07" cy="268.86" r="2.1" fill="url(#gB2)"/>
<circle cx="150.6" cy="270.76" r="2.1" fill="url(#gB2)"/>
<circle cx="122.29" cy="271.24" r="2.1" fill="url(#gR2)"/>
<circle cx="141.19" cy="272.19" r="2.1" fill="url(#gR2)"/>
<ellipse cx="135.5" cy="250.9" rx="10.8" ry="7.4" fill="none" stroke="#000" stroke-width="3.5" stroke-dasharray="3.8,2.7" stroke-dashoffset="1"/>
<line x1="135.6" y1="211.1" x2="135.6" y2="243.5" stroke="#000" stroke-width="2.2" stroke-linecap="butt" />
<path d="M131.8,242.6 L139.4,242.6 L135.6,248.6 Z" stroke="none" stroke-width="1" fill="#000" />
<text transform="translate(121.0,221.8) skewX(-9)" font-family="Liberation Sans" font-weight="bold" font-style="italic" font-size="14.6" fill="#000">e</text>
<line x1="130.2" y1="212.6" x2="132.8" y2="212.6" stroke="#000" stroke-width="1.1" stroke-linecap="butt" />
<path d="M159.6,267.6 L159.41,268.23 L159.23,268.85 L159.08,269.44 L158.96,269.98 L158.89,270.47 L158.88,270.89 L158.93,271.23 L159.04,271.48 L159.22,271.65 L159.48,271.74 L159.8,271.74 L160.19,271.66 L160.63,271.51 L161.12,271.29 L161.65,271.03 L162.21,270.73 L162.79,270.42 L163.37,270.09 L163.94,269.78 L164.49,269.49 L165.01,269.25 L165.49,269.06 L165.91,268.93 L166.27,268.88 L166.57,268.91 L166.8,269.03 L166.95,269.23 L167.04,269.52 L167.07,269.89 L167.03,270.33 L166.94,270.84 L166.81,271.4 L166.65,272 L166.46,272.63 L166.27,273.27 L166.08,273.9 L165.91,274.51 L165.77,275.08 L165.67,275.6 L165.62,276.06 L165.63,276.45 L165.7,276.76 L165.84,276.99 L166.05,277.12 L166.33,277.18 L166.68,277.14 L167.09,277.04 L167.55,276.86 L168.06,276.63 L168.6,276.35 L169.17,276.04 L169.75,275.72 L170.33,275.4 L170.89,275.1 L171.43,274.83 L171.94,274.6 L172.39,274.43 L172.79,274.33 L173.13,274.31 L173.4,274.37 L173.61,274.52 L173.74,274.76 L173.8,275.08 L173.8,275.47 L173.74,275.94 L173.64,276.47 L173.49,277.05 L173.32,277.66 L173.13,278.3 L172.94,278.93 L172.76,279.56 L172.6,280.15 L172.47,280.71 L172.39,281.21 L172.36,281.65 L172.39,282.01 L172.49,282.28 L172.66,282.48 L172.89,282.58 L173.2,282.6 L173.57,282.54 L174,282.41 L174.48,282.21 L175,281.96 L175.55,281.67 L176.13,281.35 L176.71,281.03 L177.29,280.71 L177.84,280.42 L178.37,280.16 L178.86,279.96 L179.29,279.81 L179.67,279.74 L179.98,279.75 L180.23,279.85 L180.41,280.03 L180.51,280.3 L180.55,280.65 L180.53,281.07 L180.45,281.56 L180.33,282.11 L180.18,282.71 L180,283.33 L179.81,283.96 L179.62,284.6 L179.44,285.21 L179.29,285.8 L179.18,286.33 L179.12,286.81 L179.11,287.22 L179.17,287.55 L179.29,287.79 L179.48,287.95 L179.74,288.03 L180.07,288.02 L180.46,287.93 L180.91,287.77 L181.41,287.55 L181.95,287.28 L182.51,286.98 L183.09,286.66" stroke="#f01010" stroke-width="2.3" fill="none" stroke-linejoin="round"/>
<path d="M185,282.3 L190.2,291.2 L180.6,290.2 Z" stroke="none" stroke-width="1" fill="#f01010" />
<path d="M153.9,272 L153.65,272.57 L153.41,273.13 L153.2,273.67 L153.02,274.18 L152.88,274.65 L152.8,275.07 L152.78,275.43 L152.83,275.73 L152.94,275.96 L153.13,276.13 L153.38,276.23 L153.71,276.27 L154.1,276.25 L154.54,276.18 L155.04,276.06 L155.58,275.9 L156.14,275.72 L156.73,275.52 L157.32,275.31 L157.9,275.11 L158.47,274.92 L159.01,274.76 L159.51,274.63 L159.97,274.55 L160.36,274.53 L160.69,274.56 L160.96,274.66 L161.15,274.82 L161.28,275.04 L161.33,275.34 L161.32,275.69 L161.24,276.1 L161.11,276.56 L160.94,277.06 L160.73,277.6 L160.49,278.16 L160.24,278.73 L159.99,279.31 L159.75,279.87 L159.54,280.41 L159.35,280.92 L159.21,281.4 L159.12,281.82 L159.1,282.19 L159.13,282.49 L159.24,282.74 L159.42,282.91 L159.66,283.02 L159.98,283.07 L160.36,283.06 L160.8,282.99 L161.29,282.88 L161.83,282.72 L162.39,282.54 L162.97,282.34 L163.56,282.13 L164.15,281.93 L164.72,281.74 L165.27,281.58 L165.77,281.45 L166.23,281.36 L166.63,281.33 L166.97,281.35 L167.25,281.44 L167.45,281.59 L167.58,281.81 L167.64,282.1 L167.64,282.44 L167.57,282.85 L167.45,283.3 L167.28,283.8 L167.07,284.34 L166.84,284.89 L166.59,285.46 L166.34,286.04 L166.1,286.6 L165.88,287.15 L165.69,287.67 L165.54,288.14 L165.45,288.57 L165.41,288.95 L165.44,289.26 L165.54,289.51 L165.71,289.69 L165.95,289.81 L166.26,289.87 L166.63,289.86 L167.06,289.8 L167.55,289.69 L168.07,289.54 L168.63,289.36 L169.22,289.16 L169.81,288.96 L170.4,288.75 L170.97,288.56 L171.52,288.39 L172.03,288.26 L172.49,288.17 L172.9,288.13 L173.25,288.15 L173.53,288.23 L173.74,288.37 L173.88,288.58 L173.95,288.86 L173.95,289.2 L173.89,289.6 L173.78,290.05 L173.61,290.54 L173.41,291.07 L173.18,291.63 L172.93,292.2 L172.68,292.77 L172.44,293.34 L172.21,293.89 L172.02,294.41 L171.87,294.89 L171.77,295.32 L171.73,295.7 L171.75,296.03 L171.84,296.28 L172,296.48 L172.23,296.6 L172.53,296.66 L172.9,296.66 L173.32,296.61 L173.8,296.51 L174.32,296.36 L174.88,296.19 L175.46,295.99" stroke="#10a840" stroke-width="2.3" fill="none" stroke-linejoin="round"/>
<path d="M178.9,292 L180.7,300.7 L170.8,300.2 Z" stroke="none" stroke-width="1" fill="#10a840" />
<path d="M145.1,277.7 L144.76,278.24 L144.44,278.77 L144.14,279.29 L143.89,279.77 L143.69,280.21 L143.55,280.61 L143.49,280.96 L143.5,281.26 L143.6,281.49 L143.78,281.67 L144.05,281.79 L144.4,281.85 L144.81,281.86 L145.3,281.83 L145.84,281.76 L146.42,281.66 L147.03,281.54 L147.65,281.41 L148.28,281.27 L148.89,281.15 L149.47,281.05 L150.02,280.97 L150.51,280.94 L150.93,280.94 L151.29,281 L151.56,281.11 L151.75,281.29 L151.86,281.51 L151.89,281.8 L151.83,282.15 L151.7,282.54 L151.51,282.98 L151.26,283.46 L150.97,283.97 L150.65,284.5 L150.31,285.04 L149.97,285.58 L149.64,286.12 L149.34,286.63 L149.08,287.12 L148.88,287.57 L148.73,287.97 L148.66,288.33 L148.67,288.63 L148.76,288.87 L148.93,289.05 L149.19,289.18 L149.53,289.25 L149.94,289.27 L150.41,289.24 L150.94,289.17 L151.52,289.07 L152.13,288.95 L152.75,288.82 L153.38,288.69 L153.99,288.57 L154.58,288.46 L155.13,288.38 L155.63,288.34 L156.06,288.34 L156.42,288.39 L156.71,288.5 L156.91,288.66 L157.02,288.89 L157.06,289.17 L157.01,289.5 L156.89,289.89 L156.71,290.33 L156.46,290.8 L156.18,291.31 L155.86,291.84 L155.52,292.38 L155.18,292.92 L154.85,293.46 L154.55,293.97 L154.28,294.46 L154.07,294.92 L153.92,295.33 L153.84,295.69 L153.84,296 L153.92,296.24 L154.08,296.43 L154.33,296.57 L154.66,296.64 L155.06,296.67 L155.53,296.64 L156.05,296.58 L156.63,296.49 L157.23,296.37 L157.85,296.24 L158.48,296.1 L159.1,295.98 L159.69,295.87 L160.24,295.79 L160.74,295.74 L161.19,295.74 L161.56,295.78 L161.85,295.88 L162.06,296.04 L162.19,296.26 L162.23,296.53 L162.19,296.86 L162.08,297.25 L161.9,297.68 L161.66,298.15 L161.38,298.65 L161.06,299.18 L160.73,299.72 L160.39,300.26 L160.06,300.8 L159.75,301.32 L159.48,301.81 L159.26,302.27 L159.1,302.68 L159.01,303.05 L159,303.36 L159.07,303.62 L159.23,303.82 L159.47,303.95 L159.79,304.04 L160.18,304.07 L160.64,304.05 L161.16,303.99 L161.73,303.9 L162.33,303.78 L162.95,303.65" stroke="#2040f0" stroke-width="2.3" fill="none" stroke-linejoin="round"/>
<path d="M167.5,300 L168,308.3 L158.6,307.4 Z" stroke="none" stroke-width="1" fill="#2040f0" />
<ellipse cx="165.8" cy="283.2" rx="25" ry="3.6" transform="rotate(-37 165.8 283.2)" fill="none" stroke="#000" stroke-width="1.2" stroke-dasharray="3,2"/>
<line x1="185.5" y1="269.9" x2="204.8" y2="269.9" stroke="#8a8a8a" stroke-width="1.6" stroke-linecap="butt" />
<text transform="translate(213.1,276.5) scale(0.86,1)" font-family="Liberation Sans" font-size="10.9">CL</text>
<g filter="url(#blur8)" opacity="0.42" fill="#7a7a7a"><path d="M421,60 C428,58 432,62 434,68 C438,74 443,80 444,88 C445,96 438,100 434,104 C431,108 421,108 418,104 C414,100 407,96 404,88 C402,80 408,74 412,68 C414,62 416,60 421,60 Z" transform="translate(9,7)"/><path d="M415,163 L424,159 L435,154 L446,150 L457,147.5 L466,151 L465.5,167 L455,178 L442,184 L437,191 L426,198.5 L417,195 L408,184 L407,173 Z" transform="translate(10,9)"/><path d="M485,95 C488,90 492,88 498,82 C502,75 507,73 512,73 C520,73 528,76 533,84 L535,96 C533,108 525,117 516,118 C508,118 502,114 498,108 C494,102 488,100 485,95 Z" transform="translate(6,9)"/><ellipse cx="452" cy="128" rx="20" ry="22" fill="#999"/><ellipse cx="475" cy="208" rx="26" ry="14" fill="#999"/></g>
<g filter="url(#blur2)" fill="#98d476"><path d="M421,60 C428,58 432,62 434,68 C438,74 443,80 444,88 C445,96 438,100 434,104 C431,108 421,108 418,104 C414,100 407,96 404,88 C402,80 408,74 412,68 C414,62 416,60 421,60 Z"/><path d="M415,163 L424,159 L435,154 L446,150 L457,147.5 L466,151 L465.5,167 L455,178 L442,184 L437,191 L426,198.5 L417,195 L408,184 L407,173 Z"/><path d="M485,95 C488,90 492,88 498,82 C502,75 507,73 512,73 C520,73 528,76 533,84 L535,96 C533,108 525,117 516,118 C508,118 502,114 498,108 C494,102 488,100 485,95 Z"/></g>
<line x1="425.6" y1="24.9" x2="425.6" y2="34.6" stroke="#f01010" stroke-width="2.6" stroke-linecap="butt" />
<circle cx="425.5" cy="47.5" r="5.4" fill="#f01010"/>
<line x1="430.8" y1="47.5" x2="436.2" y2="47.5" stroke="#000" stroke-width="2.2" stroke-linecap="butt" />
<line x1="442.5" y1="47.5" x2="447.9" y2="47.5" stroke="#000" stroke-width="2.2" stroke-linecap="butt" />
<line x1="445" y1="49.5" x2="445" y2="86.2" stroke="#000" stroke-width="1.8" stroke-linecap="butt" />
<path d="M440.3,57.5 L445,49.8 L449.7,57.5" stroke="#000" stroke-width="1.8" fill="none" />
<path d="M440.3,78.4 L445,86.0 L449.7,78.4" stroke="#000" stroke-width="1.8" fill="none" />
<line x1="440.6" y1="86.5" x2="452.7" y2="86.5" stroke="#000" stroke-width="2" stroke-linecap="butt" />
<text x="456.2" y="71.4" font-family="Liberation Serif" font-style="italic" font-size="16">&#964;</text>
<text x="399" y="80.8" font-family="Liberation Serif" font-style="italic" font-size="15.5" fill="#2e8a22" stroke="#2e8a22" stroke-width="0.3">&#295;&#969;</text>
<text transform="translate(400.2,53.2) skewX(-9)" font-family="Liberation Sans" font-weight="bold" font-style="italic" font-size="14.6" fill="#f01010">e</text>
<line x1="409.8" y1="44.9" x2="412.3" y2="44.9" stroke="#f01010" stroke-width="1.1" stroke-linecap="butt" />
<line x1="425.6" y1="61.5" x2="425.6" y2="108" stroke="#c0601a" stroke-width="2" stroke-linecap="butt" stroke-dasharray="3.2,1.8" />
<path d="M425.2,66 L425.22,66.25 L425.24,66.5 L425.26,66.75 L425.28,67 L425.31,67.25 L425.32,67.5 L425.33,67.75 L425.32,68 L425.3,68.25 L425.27,68.5 L425.21,68.75 L425.14,69 L425.06,69.25 L424.97,69.5 L424.88,69.75 L424.79,70 L424.74,70.25 L424.71,70.5 L424.73,70.75 L424.8,71 L424.92,71.25 L425.11,71.5 L425.35,71.75 L425.63,72 L425.92,72.25 L426.21,72.5 L426.46,72.75 L426.64,73 L426.72,73.25 L426.67,73.5 L426.46,73.75 L426.1,74 L425.58,74.25 L424.93,74.5 L424.18,74.75 L423.4,75 L422.65,75.25 L422.02,75.5 L421.57,75.75 L421.38,76 L421.52,76.25 L422.01,76.5 L422.86,76.75 L424.05,77 L425.51,77.25 L427.14,77.5 L428.81,77.75 L430.38,78 L431.68,78.25 L432.58,78.5 L432.93,78.75 L432.64,79 L431.68,79.25 L430.06,79.5 L427.85,79.75 L425.2,80 L422.3,80.25 L419.38,80.5 L416.71,80.75 L414.53,81 L413.08,81.25 L412.55,81.5 L413.03,81.75 L414.57,82 L417.09,82.25 L420.44,82.5 L424.37,82.75 L428.58,83 L432.72,83.25 L436.44,83.5 L439.39,83.75 L441.29,84 L441.96,84.25 L441.27,84.5 L439.27,84.75 L436.08,85 L431.94,85.25 L427.19,85.5 L422.21,85.75 L417.42,86 L413.22,86.25 L409.96,86.5 L407.92,86.75 L407.26,87 L408.04,87.25 L410.17,87.5 L413.46,87.75 L417.63,88 L422.31,88.25 L427.11,88.5 L431.62,88.75 L435.49,89 L438.42,89.25 L440.2,89.5 L440.73,89.75 L440.01,90 L438.17,90.25 L435.4,90.5 L431.98,90.75 L428.23,91 L424.46,91.25 L420.99,91.5 L418.09,91.75 L415.94,92 L414.68,92.25 L414.33,92.5 L414.87,92.75 L416.16,93 L418.06,93.25 L420.34,93.5 L422.79,93.75 L425.2,94 L427.37,94.25 L429.15,94.5 L430.43,94.75 L431.17,95 L431.35,95.25 L431.03,95.5 L430.29,95.75 L429.24,96 L427.99,96.25 L426.69,96.5 L425.44,96.75 L424.33,97 L423.44,97.25 L422.82,97.5 L422.47,97.75 L422.39,98 L422.54,98.25 L422.88,98.5 L423.36,98.75 L423.91,99 L424.47,99.25 L425.01,99.5 L425.47,99.75 L425.83,100 L426.08,100.25 L426.21,100.5 L426.24,100.75 L426.18,101 L426.05,101.25 L425.88,101.5 L425.68,101.75 L425.48,102 L425.3,102.25 L425.14,102.5 L425.02,102.75 L424.94,103 L424.9,103.25 L424.89,103.5 L424.91,103.75 L424.95,104 L425,104.25 L425.06,104.5 L425.11,104.75 L425.16,105 L425.21,105.25 L425.24,105.5 L425.26,105.75 L425.27,106" stroke="#2a2a2a" stroke-width="0.85" fill="none" />
<path d="M411.8,110.7L403.3,112.6M411.8,110.7L419.6,112.6M427.5,108.5L419.6,112.6M427.5,108.5L435.8,111.4M444.5,106.6L435.8,111.4M444.5,106.6L452.8,110.8M403.3,112.6L401.6,117.2M419.6,112.6L418.6,119.6M435.8,111.4L435.3,121.2M452.8,110.8L452.4,119.7M401.6,117.2L392.8,120.3M401.6,117.2L409.7,122M418.6,119.6L409.7,122M418.6,119.6L426.03,123.64M435.3,121.2L426.03,123.64M435.3,121.2L443.1,126M452.4,119.7L443.1,126M452.4,119.7L461.6,122.2M392.8,120.3L390.6,129.1M409.7,122L407.6,130.2M443.1,126L443.1,134.7M461.6,122.2L461.6,129.2M390.6,129.1L398.4,134.4M407.6,130.2L398.4,134.4M407.6,130.2L416.7,135.9M443.1,134.7L433.9,138.7M443.1,134.7L451.4,135M461.6,129.2L451.4,135M398.4,134.4L397,143.6M416.7,135.9L414.6,142.2M433.9,138.7L433.1,145.3M451.4,135L451.8,142.6M397,143.6L405.5,145M414.6,142.2L405.5,145M414.6,142.2L423.3,146.6M433.1,145.3L423.3,146.6M433.1,145.3L441.9,147.9M451.8,142.6L441.9,147.9M405.5,145L403.3,150.7M423.3,146.6L422.1,152M441.9,147.9L441.6,154M403.3,150.7L411.8,154.5M422.1,152L411.8,154.5M422.1,152L431.7,155.5M441.6,154L431.7,155.5" stroke="#8c8c50" stroke-width="0.9" fill="none" />
<circle cx="411.8" cy="110.7" r="2.2" fill="url(#gB2)"/>
<circle cx="427.5" cy="108.5" r="2.2" fill="url(#gB2)"/>
<circle cx="444.5" cy="106.6" r="2.2" fill="url(#gB2)"/>
<circle cx="403.3" cy="112.6" r="2.2" fill="url(#gR2)"/>
<circle cx="419.6" cy="112.6" r="2.2" fill="url(#gR2)"/>
<circle cx="435.8" cy="111.4" r="2.2" fill="url(#gR2)"/>
<circle cx="452.8" cy="110.8" r="2.2" fill="url(#gR2)"/>
<circle cx="401.6" cy="117.2" r="2.2" fill="url(#gB2)"/>
<circle cx="418.6" cy="119.6" r="2.2" fill="url(#gB2)"/>
<circle cx="435.3" cy="121.2" r="2.2" fill="url(#gB2)"/>
<circle cx="452.4" cy="119.7" r="2.2" fill="url(#gB2)"/>
<circle cx="392.8" cy="120.3" r="2.2" fill="url(#gR2)"/>
<circle cx="409.7" cy="122" r="2.2" fill="url(#gR2)"/>
<circle cx="426.03" cy="123.64" r="2.2" fill="url(#gR2)"/>
<circle cx="443.1" cy="126" r="2.2" fill="url(#gR2)"/>
<circle cx="461.6" cy="122.2" r="2.2" fill="url(#gR2)"/>
<circle cx="390.6" cy="129.1" r="2.2" fill="url(#gB2)"/>
<circle cx="407.6" cy="130.2" r="2.2" fill="url(#gB2)"/>
<circle cx="443.1" cy="134.7" r="2.2" fill="url(#gB2)"/>
<circle cx="461.6" cy="129.2" r="2.2" fill="url(#gB2)"/>
<circle cx="398.4" cy="134.4" r="2.2" fill="url(#gR2)"/>
<circle cx="416.7" cy="135.9" r="2.2" fill="url(#gR2)"/>
<circle cx="433.9" cy="138.7" r="2.2" fill="url(#gR2)"/>
<circle cx="451.4" cy="135" r="2.2" fill="url(#gR2)"/>
<circle cx="397" cy="143.6" r="2.2" fill="url(#gB2)"/>
<circle cx="414.6" cy="142.2" r="2.2" fill="url(#gB2)"/>
<circle cx="433.1" cy="145.3" r="2.2" fill="url(#gB2)"/>
<circle cx="451.8" cy="142.6" r="2.2" fill="url(#gB2)"/>
<circle cx="405.5" cy="145" r="2.2" fill="url(#gR2)"/>
<circle cx="423.3" cy="146.6" r="2.2" fill="url(#gR2)"/>
<circle cx="441.9" cy="147.9" r="2.2" fill="url(#gR2)"/>
<circle cx="403.3" cy="150.7" r="2.2" fill="url(#gB2)"/>
<circle cx="422.1" cy="152" r="2.2" fill="url(#gB2)"/>
<circle cx="441.6" cy="154" r="2.2" fill="url(#gB2)"/>
<circle cx="411.8" cy="154.5" r="2.2" fill="url(#gR2)"/>
<circle cx="431.7" cy="155.5" r="2.2" fill="url(#gR2)"/>
<ellipse cx="425.5" cy="133.2" rx="10.8" ry="7.2" fill="none" stroke="#000" stroke-width="3.5" stroke-dasharray="3.8,2.7" stroke-dashoffset="1"/>
<line x1="425.6" y1="113.5" x2="425.6" y2="127" stroke="#f01818" stroke-width="2.4" stroke-linecap="butt" />
<path d="M421.6,126 L429.6,126 L425.6,133.4 Z" stroke="none" stroke-width="1" fill="#f01818" />
<line x1="425.7" y1="153.5" x2="425.7" y2="212" stroke="#000" stroke-width="2.4" stroke-linecap="butt" />
<path d="M419.2,203.8 L425.7,213.2 L432.2,203.8" stroke="#000" stroke-width="2.8" fill="none" stroke-linejoin="miter"/>
<path d="M424.5,166 L424.58,166.25 L424.69,166.5 L424.8,166.75 L424.91,167 L425,167.25 L425.07,167.5 L425.09,167.75 L425.04,168 L424.92,168.25 L424.72,168.5 L424.44,168.75 L424.09,169 L423.71,169.25 L423.32,169.5 L422.96,169.75 L422.68,170 L422.54,170.25 L422.58,170.5 L422.82,170.75 L423.3,171 L423.99,171.25 L424.87,171.5 L425.88,171.75 L426.94,172 L427.93,172.25 L428.76,172.5 L429.29,172.75 L429.43,173 L429.12,173.25 L428.3,173.5 L427,173.75 L425.28,174 L423.26,174.25 L421.11,174.5 L419.03,174.75 L417.22,175 L415.9,175.25 L415.25,175.5 L415.4,175.75 L416.4,176 L418.23,176.25 L420.77,176.5 L423.84,176.75 L427.19,177 L430.5,177.25 L433.46,177.5 L435.78,177.75 L437.21,178 L437.56,178.25 L436.78,178.5 L434.89,178.75 L432.04,179 L428.47,179.25 L424.5,179.5 L420.49,179.75 L416.81,180 L413.79,180.25 L411.71,180.5 L410.75,180.75 L410.99,181 L412.38,181.25 L414.77,181.5 L417.92,181.75 L421.52,182 L425.23,182.25 L428.71,182.5 L431.66,182.75 L433.85,183 L435.1,183.25 L435.38,183.5 L434.72,183.75 L433.25,184 L431.15,184.25 L428.66,184.5 L426.03,184.75 L423.52,185 L421.34,185.25 L419.65,185.5 L418.54,185.75 L418.07,186 L418.19,186.25 L418.84,186.5 L419.88,186.75 L421.19,187 L422.6,187.25 L423.98,187.5 L425.21,187.75 L426.2,188 L426.9,188.25 L427.28,188.5 L427.36,188.75 L427.18,189 L426.79,189.25 L426.28,189.5 L425.7,189.75 L425.12,190 L424.6,190.25 L424.16,190.5 L423.84,190.75 L423.64,191 L423.55,191.25 L423.57,191.5 L423.67,191.75 L423.82,192 L424,192.25 L424.18,192.5 L424.35,192.75 L424.5,193 L424.61,193.25 L424.69,193.5 L424.73,193.75 L424.74,194" stroke="#3a4a2a" stroke-width="0.75" fill="none" />
<path d="M433,149 L432.97,149.35 L432.92,149.71 L432.89,150.06 L432.87,150.4 L432.88,150.7 L432.93,150.95 L433.02,151.14 L433.18,151.27 L433.39,151.33 L433.67,151.31 L434.01,151.22 L434.4,151.07 L434.83,150.86 L435.3,150.62 L435.78,150.35 L436.26,150.09 L436.72,149.86 L437.14,149.68 L437.5,149.56 L437.78,149.54 L437.97,149.63 L438.06,149.83 L438.05,150.15 L437.94,150.59 L437.74,151.14 L437.46,151.78 L437.13,152.48 L436.76,153.23 L436.39,153.98 L436.04,154.7 L435.75,155.36 L435.54,155.91 L435.45,156.33 L435.48,156.6 L435.67,156.69 L436.01,156.6 L436.5,156.33 L437.13,155.89 L437.89,155.3 L438.74,154.6 L439.65,153.83 L440.58,153.04 L441.49,152.27 L442.33,151.59 L443.06,151.04 L443.64,150.66 L444.03,150.5 L444.23,150.58 L444.2,150.92 L443.96,151.52 L443.52,152.35 L442.89,153.41 L442.12,154.63 L441.25,155.96 L440.34,157.35 L439.45,158.73 L438.62,160.01 L437.93,161.14 L437.43,162.05 L437.15,162.68 L437.14,163.01 L437.42,163 L437.97,162.65 L438.8,161.97 L439.88,161.01 L441.15,159.81 L442.57,158.43 L444.07,156.97 L445.57,155.5 L447.01,154.11 L448.29,152.9 L449.36,151.94 L450.17,151.29 L450.65,151.03 L450.8,151.16 L450.6,151.71 L450.06,152.66 L449.21,153.98 L448.1,155.6 L446.8,157.46 L445.38,159.45 L443.93,161.48 L442.54,163.44 L441.29,165.22 L440.27,166.75 L439.54,167.92 L439.16,168.68 L439.16,168.99 L439.56,168.82 L440.35,168.2 L441.5,167.15 L442.95,165.74 L444.64,164.04 L446.49,162.16 L448.4,160.21 L450.28,158.29 L452.03,156.53 L453.56,155.03 L454.79,153.88 L455.67,153.15 L456.14,152.9 L456.2,153.14 L455.85,153.87 L455.1,155.06 L454.02,156.65 L452.67,158.56 L451.14,160.69 L449.51,162.93 L447.88,165.16 L446.36,167.28 L445.03,169.16 L443.98,170.72 L443.27,171.87 L442.94,172.57 L443.02,172.79 L443.51,172.51 L444.39,171.78 L445.61,170.65 L447.12,169.18 L448.82,167.46 L450.65,165.61 L452.49,163.74 L454.27,161.94 L455.89,160.33 L457.27,159 L458.35,158.03 L459.09,157.47 L459.46,157.34 L459.45,157.66 L459.08,158.4 L458.39,159.53 L457.43,160.98 L456.27,162.67 L454.97,164.52 L453.64,166.41 L452.34,168.26 L451.15,169.98 L450.15,171.47 L449.4,172.67 L448.93,173.54 L448.77,174.04 L448.94,174.15 L449.41,173.9 L450.16,173.32 L451.16,172.45 L452.34,171.35 L453.65,170.11 L455.02,168.81 L456.37,167.51 L457.65,166.31 L458.79,165.26 L459.75,164.43 L460.5,163.86 L460.99,163.59 L461.24,163.61 L461.23,163.92 L461,164.5 L460.57,165.32 L459.98,166.33 L459.29,167.47 L458.53,168.68 L457.76,169.89 L457.04,171.06 L456.41,172.12 L455.9,173.03 L455.55,173.75 L455.38,174.27 L455.39,174.57 L455.59,174.64 L455.95,174.52 L456.47,174.21 L457.11,173.76 L457.85,173.21 L458.63,172.59 L459.43,171.95 L460.21,171.33 L460.94,170.78 L461.59,170.32 L462.13,169.99 L462.56,169.8 L462.85,169.75 L463.03,169.86 L463.08,170.1 L463.03,170.48 L462.88,170.96 L462.68,171.51 L462.42,172.12 L462.15,172.75 L461.89,173.38 L461.65,173.97 L461.47,174.5 L461.34,174.96 L461.29,175.33 L461.32,175.6 L461.43,175.78 L461.61,175.87 L461.87,175.88 L462.19,175.82 L462.55,175.7 L462.94,175.55 L463.35,175.37 L463.75,175.2 L464.15,175.04 L464.52,174.91 L464.85,174.83 L465.14,174.79 L465.39,174.81 L465.59,174.89 L465.74,175.02" stroke="#3a4a2a" stroke-width="0.75" fill="none" />
<path d="M451,168 L450.94,168.34 L450.87,168.69 L450.81,169.03 L450.78,169.35 L450.79,169.63 L450.84,169.85 L450.96,170.02 L451.14,170.12 L451.4,170.15 L451.72,170.11 L452.1,170.01 L452.54,169.86 L453,169.67 L453.49,169.47 L453.96,169.28 L454.41,169.12 L454.8,169.01 L455.12,168.98 L455.34,169.03 L455.46,169.2 L455.47,169.47 L455.37,169.85 L455.17,170.34 L454.88,170.9 L454.54,171.54 L454.15,172.2 L453.77,172.86 L453.42,173.5 L453.15,174.06 L452.97,174.51 L452.93,174.84 L453.03,175.02 L453.3,175.03 L453.73,174.89 L454.32,174.58 L455.04,174.14 L455.86,173.6 L456.75,173 L457.66,172.37 L458.53,171.78 L459.32,171.27 L459.99,170.89 L460.47,170.69 L460.76,170.69 L460.82,170.91 L460.65,171.36 L460.26,172.03 L459.67,172.91 L458.92,173.93 L458.07,175.07 L457.17,176.25 L456.29,177.42 L455.5,178.49 L454.86,179.41 L454.43,180.12 L454.27,180.57 L454.39,180.74 L454.81,180.59 L455.53,180.16 L456.52,179.45 L457.73,178.52 L459.11,177.42 L460.58,176.24 L462.05,175.06 L463.43,173.95 L464.65,173.01 L465.63,172.32 L466.3,171.93 L466.62,171.89 L466.57,172.23 L466.15,172.93 L465.38,173.98 L464.32,175.33 L463.03,176.9 L461.61,178.61 L460.14,180.36 L458.74,182.04 L457.5,183.56 L456.52,184.83 L455.87,185.75 L455.63,186.28 L455.81,186.39 L456.42,186.05 L457.45,185.31 L458.84,184.2 L460.52,182.8 L462.4,181.21 L464.36,179.53 L466.28,177.89 L468.07,176.39 L469.59,175.15 L470.77,174.25 L471.53,173.77 L471.83,173.76 L471.65,174.22 L471.01,175.14 L469.95,176.48 L468.56,178.16 L466.92,180.09 L465.14,182.14 L463.36,184.21 L461.69,186.16 L460.25,187.88 L459.15,189.27 L458.45,190.25 L458.23,190.75 L458.49,190.77 L459.24,190.31 L460.43,189.4 L462,188.11 L463.85,186.55 L465.87,184.81 L467.95,183.02 L469.95,181.3 L471.76,179.77 L473.28,178.53 L474.41,177.68 L475.11,177.27 L475.33,177.33 L475.08,177.86 L474.39,178.84 L473.31,180.2 L471.93,181.86 L470.35,183.72 L468.68,185.68 L467.04,187.6 L465.53,189.39 L464.28,190.93 L463.34,192.14 L462.8,192.97 L462.69,193.36 L463.01,193.33 L463.74,192.88 L464.84,192.06 L466.24,190.95 L467.85,189.62 L469.57,188.18 L471.31,186.72 L472.95,185.36 L474.41,184.18 L475.61,183.27 L476.49,182.67 L477.01,182.44 L477.15,182.58 L476.94,183.08 L476.39,183.9 L475.57,185.01 L474.55,186.31 L473.4,187.74 L472.21,189.21 L471.07,190.64 L470.06,191.93 L469.24,193.03 L468.67,193.89 L468.38,194.46 L468.39,194.73 L468.7,194.7 L469.29,194.4 L470.1,193.87 L471.1,193.15 L472.22,192.32 L473.4,191.43 L474.55,190.55 L475.64,189.75 L476.59,189.08 L477.36,188.6 L477.92,188.32 L478.25,188.27 L478.36,188.44 L478.25,188.83 L477.96,189.41 L477.52,190.13 L476.97,190.96 L476.36,191.85 L475.75,192.75 L475.18,193.6 L474.69,194.37 L474.32,195.03 L474.1,195.53 L474.03,195.88 L474.13,196.07 L474.38,196.09 L474.78,195.98 L475.29,195.76 L475.88,195.45 L476.53,195.08 L477.19,194.7 L477.83,194.34 L478.43,194.03 L478.96,193.78 L479.39,193.64 L479.71,193.59 L479.93,193.66 L480.04,193.83 L480.05,194.1 L479.98,194.46 L479.85,194.87 L479.67,195.33 L479.47,195.81 L479.28,196.28 L479.12,196.73 L478.99,197.14 L478.93,197.49 L478.92,197.78 L478.99,198 L479.12,198.14 L479.32,198.23 L479.57,198.26 L479.87,198.25 L480.19,198.2 L480.54,198.14 L480.88,198.08" stroke="#e03030" stroke-width="0.75" fill="none" />
<path d="M425.7,192.8 C440,194.8 454,189 459,177.5" stroke="#000" stroke-width="1.1" fill="none" />
<line x1="449" y1="163.5" x2="461" y2="177.3" stroke="#a8541c" stroke-width="2.4" stroke-linecap="butt" />
<line x1="461" y1="177.3" x2="486.5" y2="206.5" stroke="#f01010" stroke-width="2.4" stroke-linecap="butt" />
<path d="M491.6,212.4 L479.8,207.2 L484.5,204.8 L488.6,200.6 Z" stroke="none" stroke-width="1" fill="#f01010" />
<text transform="translate(448.0,207.7) scale(1.2,1)" font-family="Liberation Serif" font-style="italic" font-size="19">&#952;</text>
<text x="409.4" y="213.8" font-family="Liberation Serif" font-style="italic" font-size="14.5" stroke="#000" stroke-width="0.25">k</text>
<text x="417.4" y="217.0" font-family="Liberation Serif" font-size="10" stroke="#000" stroke-width="0.15">1</text>
<text x="486.6" y="198.5" font-family="Liberation Serif" font-style="italic" font-size="14.5" fill="#f01010" stroke="#f01010" stroke-width="0.2">k</text>
<text x="493.6" y="201.2" font-family="Liberation Serif" font-size="10" fill="#f01010">2</text>
<path d="M468.8,220.3 L476.5,225.6 Q478.6,227 480.6,225.4 L507.6,203.6 Q510.2,201.4 509.4,198.4 L506.4,192.3" stroke="#000" stroke-width="3.8" fill="none" stroke-linejoin="round" stroke-linecap="butt"/>
<text x="510.4" y="222" font-family="Liberation Sans" font-size="12.6" font-weight="normal" font-style="normal" fill="#000" text-anchor="start" >Energy</text>
<text x="510.6" y="238" font-family="Liberation Sans" font-size="12.8" font-weight="normal" font-style="normal" fill="#000" text-anchor="start" >analyzer</text>
<line x1="533.2" y1="41" x2="533.2" y2="152" stroke="#777" stroke-width="0.9" stroke-linecap="butt" />
<path d="M533.15,50 L533.15,50.5 L533.14,51 L533.13,51.5 L533.12,52 L533.11,52.5 L533.1,53 L533.08,53.5 L533.07,54 L533.05,54.5 L533.03,55 L533.01,55.5 L532.99,56 L532.96,56.5 L532.94,57 L532.9,57.5 L532.87,58 L532.83,58.5 L532.79,59 L532.75,59.5 L532.7,60 L532.64,60.5 L532.58,61 L532.52,61.5 L532.44,62 L532.37,62.5 L532.28,63 L532.19,63.5 L532.09,64 L531.99,64.5 L531.87,65 L531.75,65.5 L531.61,66 L531.47,66.5 L531.31,67 L531.15,67.5 L530.97,68 L530.79,68.5 L530.59,69 L530.38,69.5 L530.15,70 L529.91,70.5 L529.66,71 L529.39,71.5 L529.11,72 L528.82,72.5 L528.51,73 L528.18,73.5 L527.84,74 L527.49,74.5 L527.12,75 L526.73,75.5 L526.33,76 L525.92,76.5 L525.49,77 L525.04,77.5 L524.59,78 L524.12,78.5 L523.64,79 L523.14,79.5 L522.64,80 L522.13,80.5 L521.6,81 L521.07,81.5 L520.54,82 L520,82.5 L519.45,83 L518.9,83.5 L518.35,84 L517.8,84.5 L517.25,85 L516.71,85.5 L516.17,86 L515.64,86.5 L515.12,87 L514.6,87.5 L514.1,88 L513.61,88.5 L513.14,89 L512.69,89.5 L512.25,90 L511.84,90.5 L511.44,91 L511.07,91.5 L510.73,92 L510.41,92.5 L510.12,93 L509.86,93.5 L509.63,94 L509.42,94.5 L509.26,95 L509.12,95.5 L509.01,96 L508.94,96.5 L508.91,97 L508.9,97.5 L508.93,98 L509,98.5 L509.09,99 L509.23,99.5 L509.39,100 L509.58,100.5 L509.81,101 L510.06,101.5 L510.35,102 L510.66,102.5 L511,103 L511.37,103.5 L511.76,104 L512.17,104.5 L512.6,105 L513.05,105.5 L513.52,106 L514,106.5 L514.5,107 L515.01,107.5 L515.53,108 L516.06,108.5 L516.6,109 L517.15,109.5 L517.69,110 L518.24,110.5 L518.79,111 L519.34,111.5 L519.89,112 L520.43,112.5 L520.97,113 L521.5,113.5 L522.02,114 L522.54,114.5 L523.04,115 L523.54,115.5 L524.02,116 L524.49,116.5 L524.95,117 L525.4,117.5 L525.83,118 L526.25,118.5 L526.65,119 L527.04,119.5 L527.41,120 L527.77,120.5 L528.11,121 L528.44,121.5 L528.76,122 L529.05,122.5 L529.34,123 L529.61,123.5 L529.86,124 L530.1,124.5 L530.33,125 L530.55,125.5 L530.75,126 L530.94,126.5 L531.12,127 L531.28,127.5 L531.44,128 L531.58,128.5 L531.72,129 L531.85,129.5 L531.96,130 L532.07,130.5 L532.17,131 L532.26,131.5 L532.35,132 L532.43,132.5 L532.5,133 L532.57,133.5 L532.63,134 L532.68,134.5 L532.74,135 L532.78,135.5 L532.82,136 L532.86,136.5 L532.9,137 L532.93,137.5 L532.96,138 L532.98,138.5 L533.01,139 L533.03,139.5 L533.05,140 L533.07,140.5 L533.08,141 L533.09,141.5 L533.11,142 L533.12,142.5 L533.13,143 L533.14,143.5 L533.14,144 L533.15,144.5 L533.16,145 L533.2,145 L533.2,50 Z" fill="url(#gProf)" stroke="none"/>
<path d="M533.15,50 L533.15,50.5 L533.14,51 L533.13,51.5 L533.12,52 L533.11,52.5 L533.1,53 L533.08,53.5 L533.07,54 L533.05,54.5 L533.03,55 L533.01,55.5 L532.99,56 L532.96,56.5 L532.94,57 L532.9,57.5 L532.87,58 L532.83,58.5 L532.79,59 L532.75,59.5 L532.7,60 L532.64,60.5 L532.58,61 L532.52,61.5 L532.44,62 L532.37,62.5 L532.28,63 L532.19,63.5 L532.09,64 L531.99,64.5 L531.87,65 L531.75,65.5 L531.61,66 L531.47,66.5 L531.31,67 L531.15,67.5 L530.97,68 L530.79,68.5 L530.59,69 L530.38,69.5 L530.15,70 L529.91,70.5 L529.66,71 L529.39,71.5 L529.11,72 L528.82,72.5 L528.51,73 L528.18,73.5 L527.84,74 L527.49,74.5 L527.12,75 L526.73,75.5 L526.33,76 L525.92,76.5 L525.49,77 L525.04,77.5 L524.59,78 L524.12,78.5 L523.64,79 L523.14,79.5 L522.64,80 L522.13,80.5 L521.6,81 L521.07,81.5 L520.54,82 L520,82.5 L519.45,83 L518.9,83.5 L518.35,84 L517.8,84.5 L517.25,85 L516.71,85.5 L516.17,86 L515.64,86.5 L515.12,87 L514.6,87.5 L514.1,88 L513.61,88.5 L513.14,89 L512.69,89.5 L512.25,90 L511.84,90.5 L511.44,91 L511.07,91.5 L510.73,92 L510.41,92.5 L510.12,93 L509.86,93.5 L509.63,94 L509.42,94.5 L509.26,95 L509.12,95.5 L509.01,96 L508.94,96.5 L508.91,97 L508.9,97.5 L508.93,98 L509,98.5 L509.09,99 L509.23,99.5 L509.39,100 L509.58,100.5 L509.81,101 L510.06,101.5 L510.35,102 L510.66,102.5 L511,103 L511.37,103.5 L511.76,104 L512.17,104.5 L512.6,105 L513.05,105.5 L513.52,106 L514,106.5 L514.5,107 L515.01,107.5 L515.53,108 L516.06,108.5 L516.6,109 L517.15,109.5 L517.69,110 L518.24,110.5 L518.79,111 L519.34,111.5 L519.89,112 L520.43,112.5 L520.97,113 L521.5,113.5 L522.02,114 L522.54,114.5 L523.04,115 L523.54,115.5 L524.02,116 L524.49,116.5 L524.95,117 L525.4,117.5 L525.83,118 L526.25,118.5 L526.65,119 L527.04,119.5 L527.41,120 L527.77,120.5 L528.11,121 L528.44,121.5 L528.76,122 L529.05,122.5 L529.34,123 L529.61,123.5 L529.86,124 L530.1,124.5 L530.33,125 L530.55,125.5 L530.75,126 L530.94,126.5 L531.12,127 L531.28,127.5 L531.44,128 L531.58,128.5 L531.72,129 L531.85,129.5 L531.96,130 L532.07,130.5 L532.17,131 L532.26,131.5 L532.35,132 L532.43,132.5 L532.5,133 L532.57,133.5 L532.63,134 L532.68,134.5 L532.74,135 L532.78,135.5 L532.82,136 L532.86,136.5 L532.9,137 L532.93,137.5 L532.96,138 L532.98,138.5 L533.01,139 L533.03,139.5 L533.05,140 L533.07,140.5 L533.08,141 L533.09,141.5 L533.11,142 L533.12,142.5 L533.13,143 L533.14,143.5 L533.14,144 L533.15,144.5 L533.16,145" stroke="#1a2a10" stroke-width="0.8" fill="none" />
<path d="M488,97.3 L488.2,97.3 L488.4,97.31 L488.6,97.31 L488.8,97.31 L489,97.32 L489.2,97.32 L489.4,97.32 L489.6,97.33 L489.8,97.33 L490,97.33 L490.2,97.33 L490.4,97.32 L490.6,97.32 L490.8,97.31 L491,97.29 L491.2,97.28 L491.4,97.26 L491.6,97.24 L491.8,97.22 L492,97.21 L492.2,97.19 L492.4,97.18 L492.6,97.17 L492.8,97.16 L493,97.17 L493.2,97.19 L493.4,97.21 L493.6,97.25 L493.8,97.3 L494,97.36 L494.2,97.43 L494.4,97.5 L494.6,97.58 L494.8,97.65 L495,97.72 L495.2,97.77 L495.4,97.81 L495.6,97.82 L495.8,97.81 L496,97.76 L496.2,97.67 L496.4,97.55 L496.6,97.39 L496.8,97.2 L497,96.98 L497.2,96.75 L497.4,96.5 L497.6,96.27 L497.8,96.05 L498,95.87 L498.2,95.75 L498.4,95.69 L498.6,95.72 L498.8,95.84 L499,96.06 L499.2,96.38 L499.4,96.8 L499.6,97.3 L499.8,97.87 L500,98.48 L500.2,99.11 L500.4,99.71 L500.6,100.27 L500.8,100.72 L501,101.05 L501.2,101.22 L501.4,101.19 L501.6,100.95 L501.8,100.5 L502,99.82 L502.2,98.94 L502.4,97.88 L502.6,96.69 L502.8,95.41 L503,94.11 L503.2,92.86 L503.4,91.72 L503.6,90.77 L503.8,90.08 L504,89.7 L504.2,89.68 L504.4,90.05 L504.6,90.81 L504.8,91.97 L505,93.47 L505.2,95.28 L505.4,97.3 L505.6,99.45 L505.8,101.63 L506,103.72 L506.2,105.61 L506.4,107.19 L506.6,108.36 L506.8,109.03 L507,109.16 L507.2,108.71 L507.4,107.68 L507.6,106.09 L507.8,104.01 L508,101.53 L508.2,98.76 L508.4,95.82 L508.6,92.88 L508.8,90.07 L509,87.54 L509.2,85.43 L509.4,83.85 L509.6,82.89 L509.8,82.62 L510,83.05 L510.2,84.16 L510.4,85.92 L510.6,88.24 L510.8,91.01 L511,94.08 L511.2,97.3 L511.4,100.52 L511.6,103.57 L511.8,106.3 L512,108.58 L512.2,110.29 L512.4,111.37 L512.6,111.76 L512.8,111.45 L513,110.48 L513.2,108.91 L513.4,106.83 L513.6,104.34 L513.8,101.6 L514,98.73 L514.2,95.89 L514.4,93.22 L514.6,90.84 L514.8,88.85 L515,87.35 L515.2,86.38 L515.4,85.98 L515.6,86.12 L515.8,86.79 L516,87.92 L516.2,89.44 L516.4,91.24 L516.6,93.22 L516.8,95.28 L517,97.3 L517.2,99.19 L517.4,100.87 L517.6,102.27 L517.8,103.33 L518,104.03 L518.2,104.35 L518.4,104.32 L518.6,103.95 L518.8,103.3 L519,102.42 L519.2,101.37 L519.4,100.21 L519.6,99.02 L519.8,97.86 L520,96.77 L520.2,95.82 L520.4,95.02 L520.6,94.42 L520.8,94.01 L521,93.81 L521.2,93.79 L521.4,93.95 L521.6,94.25 L521.8,94.66 L522,95.16 L522.2,95.7 L522.4,96.26 L522.6,96.8 L522.8,97.3 L523,97.74 L523.2,98.1 L523.4,98.38 L523.6,98.57 L523.8,98.67 L524,98.69 L524.2,98.64 L524.4,98.53 L524.6,98.38 L524.8,98.19 L525,97.98 L525.2,97.77 L525.4,97.57 L525.6,97.38 L525.8,97.22 L526,97.09 L526.2,96.98 L526.4,96.91 L526.6,96.87 L526.8,96.86 L527,96.87 L527.2,96.9 L527.4,96.95 L527.6,97.01 L527.8,97.07 L528,97.13 L528.2,97.2 L528.4,97.25 L528.6,97.3 L528.8,97.34 L529,97.37 L529.2,97.39 L529.4,97.41 L529.6,97.41 L529.8,97.41 L530,97.4 L530.2,97.39 L530.4,97.38 L530.6,97.36 L530.8,97.35 L531,97.33 L531.2,97.32 L531.4,97.31 L531.6,97.3 L531.8,97.29 L532,97.28 L532.2,97.28 L532.4,97.28 L532.6,97.28 L532.8,97.28" stroke="#333" stroke-width="0.75" fill="none" />
<rect x="533.8" y="67.8" width="98" height="61.4" rx="12" ry="12" fill="#fdf7f3" stroke="#a2602e" stroke-width="1.4" stroke-dasharray="4.2,3"/>
<path d="M548.33,121.93 L548.54,121.91 L548.76,121.89 L548.97,121.87 L549.19,121.84 L549.4,121.82 L549.62,121.79 L549.83,121.76 L550.05,121.73 L550.26,121.7 L550.48,121.66 L550.69,121.63 L550.91,121.59 L551.12,121.55 L551.34,121.51 L551.55,121.46 L551.77,121.42 L551.98,121.37 L552.19,121.32 L552.41,121.26 L552.62,121.21 L552.84,121.15 L553.05,121.09 L553.27,121.02 L553.48,120.96 L553.7,120.89 L553.91,120.81 L554.13,120.74 L554.34,120.66 L554.56,120.58 L554.77,120.49 L554.99,120.41 L555.2,120.32 L555.42,120.22 L555.63,120.12 L555.84,120.02 L556.06,119.92 L556.27,119.81 L556.49,119.7 L556.7,119.59 L556.92,119.47 L557.13,119.35 L557.35,119.23 L557.56,119.11 L557.78,118.98 L557.99,118.84 L558.21,118.71 L558.42,118.57 L558.64,118.43 L558.85,118.29 L559.06,118.14 L559.28,118 L559.49,117.85 L559.71,117.7 L559.92,117.54 L560.14,117.39 L560.35,117.23 L560.57,117.07 L560.78,116.91 L561,116.75 L561.21,116.59 L561.43,116.43 L561.64,116.26 L561.86,116.1 L562.07,115.94 L562.29,115.77 L562.5,115.61 L562.71,115.45 L562.93,115.29 L563.14,115.13 L563.36,114.97 L563.57,114.82 L563.79,114.66 L564,114.51 L564.22,114.37 L564.43,114.22 L564.65,114.08 L564.86,113.94 L565.08,113.8 L565.29,113.67 L565.51,113.54 L565.72,113.42 L565.94,113.3 L566.15,113.19 L566.36,113.08 L566.58,112.98 L566.79,112.88 L567.01,112.79 L567.22,112.71 L567.44,112.63 L567.65,112.55 L567.87,112.49 L568.08,112.43 L568.3,112.38 L568.51,112.33 L568.73,112.29 L568.94,112.26 L569.16,112.23 L569.37,112.21 L569.59,112.2 L569.8,112.2 L570.01,112.2 L570.23,112.21 L570.44,112.23 L570.66,112.26 L570.87,112.29 L571.09,112.33 L571.3,112.38 L571.52,112.43 L571.73,112.49 L571.95,112.55 L572.16,112.63 L572.38,112.71 L572.59,112.79 L572.81,112.88 L573.02,112.98 L573.24,113.08 L573.45,113.19 L573.66,113.3 L573.88,113.42 L574.09,113.54 L574.31,113.67 L574.52,113.8 L574.74,113.94 L574.95,114.08 L575.17,114.22 L575.38,114.37 L575.6,114.51 L575.81,114.66 L576.03,114.82 L576.24,114.97 L576.46,115.13 L576.67,115.29 L576.89,115.45 L577.1,115.61 L577.31,115.77 L577.53,115.94 L577.74,116.1 L577.96,116.26 L578.17,116.43 L578.39,116.59 L578.6,116.75 L578.82,116.91 L579.03,117.07 L579.25,117.23 L579.46,117.39 L579.68,117.54 L579.89,117.7 L580.11,117.85 L580.32,118 L580.53,118.14 L580.75,118.29 L580.96,118.43 L581.18,118.57 L581.39,118.71 L581.61,118.84 L581.82,118.98 L582.04,119.11 L582.25,119.23 L582.47,119.35 L582.68,119.47 L582.9,119.59 L583.11,119.7 L583.33,119.81 L583.54,119.92 L583.76,120.02 L583.97,120.12 L584.18,120.22 L584.4,120.32 L584.61,120.41 L584.83,120.49 L585.04,120.58 L585.26,120.66 L585.47,120.74 L585.69,120.81 L585.9,120.89 L586.12,120.96 L586.33,121.02 L586.55,121.09 L586.76,121.15 L586.98,121.21 L587.19,121.26 L587.41,121.32 L587.62,121.37 L587.83,121.42 L588.05,121.46 L588.26,121.51 L588.48,121.55 L588.69,121.59 L588.91,121.63 L589.12,121.66 L589.34,121.7 L589.55,121.73 L589.77,121.76 L589.98,121.79 L590.2,121.82 L590.41,121.84 L590.63,121.87 L590.84,121.89 L591.06,121.91 L591.27,121.93 Z" fill="#4a9e80"/>
<line x1="540.6" y1="122.2" x2="591" y2="122.2" stroke="#6a6a6a" stroke-width="0.9" stroke-linecap="butt" />
<path d="M548.05,108.06 L548.32,108.05 L548.58,108.04 L548.85,108.03 L549.11,108.02 L549.38,108.01 L549.64,107.99 L549.91,107.98 L550.17,107.96 L550.44,107.94 L550.71,107.92 L550.97,107.89 L551.24,107.86 L551.5,107.83 L551.77,107.79 L552.03,107.75 L552.3,107.7 L552.56,107.65 L552.83,107.59 L553.09,107.53 L553.36,107.46 L553.63,107.38 L553.89,107.3 L554.16,107.21 L554.42,107.1 L554.69,106.99 L554.95,106.88 L555.22,106.75 L555.48,106.6 L555.75,106.45 L556.01,106.29 L556.28,106.12 L556.55,105.93 L556.81,105.73 L557.08,105.52 L557.34,105.29 L557.61,105.06 L557.87,104.8 L558.14,104.54 L558.4,104.27 L558.67,103.98 L558.94,103.68 L559.2,103.37 L559.47,103.05 L559.73,102.72 L560,102.39 L560.26,102.05 L560.53,101.7 L560.79,101.35 L561.06,101 L561.33,100.65 L561.59,100.3 L561.86,99.95 L562.12,99.62 L562.39,99.29 L562.65,98.97 L562.92,98.67 L563.18,98.39 L563.45,98.12 L563.71,97.88 L563.98,97.66 L564.25,97.47 L564.51,97.31 L564.78,97.18 L565.04,97.08 L565.31,97.02 L565.57,97 L565.84,97.02 L566.1,97.07 L566.37,97.17 L566.63,97.3 L566.9,97.48 L567.17,97.69 L567.43,97.95 L567.7,98.24 L567.96,98.57 L568.23,98.94 L568.49,99.33 L568.76,99.76 L569.02,100.21 L569.29,100.68 L569.56,101.18 L569.82,101.68 L570.09,102.2 L570.35,102.72 L570.62,103.24 L570.88,103.76 L571.15,104.27 L571.41,104.76 L571.68,105.24 L571.95,105.69 L572.21,106.12 L572.48,106.51 L572.74,106.87 L573.01,107.18 L573.27,107.46 L573.54,107.69 L573.8,107.87 L574.07,108 L574.33,108.07 L574.6,108.1 L574.87,108.07 L575.13,108 L575.4,107.87 L575.66,107.69 L575.93,107.46 L576.19,107.18 L576.46,106.87 L576.72,106.51 L576.99,106.12 L577.25,105.69 L577.52,105.24 L577.79,104.76 L578.05,104.27 L578.32,103.76 L578.58,103.24 L578.85,102.72 L579.11,102.2 L579.38,101.68 L579.64,101.18 L579.91,100.68 L580.18,100.21 L580.44,99.76 L580.71,99.33 L580.97,98.94 L581.24,98.57 L581.5,98.24 L581.77,97.95 L582.03,97.69 L582.3,97.48 L582.57,97.3 L582.83,97.17 L583.1,97.07 L583.36,97.02 L583.63,97 L583.89,97.02 L584.16,97.08 L584.42,97.18 L584.69,97.31 L584.95,97.47 L585.22,97.66 L585.49,97.88 L585.75,98.12 L586.02,98.39 L586.28,98.67 L586.55,98.97 L586.81,99.29 L587.08,99.62 L587.34,99.95 L587.61,100.3 L587.88,100.65 L588.14,101 L588.41,101.35 L588.67,101.7 L588.94,102.05 L589.2,102.39 L589.47,102.72 L589.73,103.05 L590,103.37 L590.26,103.68 L590.53,103.98 L590.8,104.27 L591.06,104.54 L591.33,104.8 L591.59,105.06 L591.86,105.29 L592.12,105.52 L592.39,105.73 L592.65,105.93 L592.92,106.12 L593.19,106.29 L593.45,106.45 L593.72,106.6 L593.98,106.75 L594.25,106.88 L594.51,106.99 L594.78,107.1 L595.04,107.21 L595.31,107.3 L595.57,107.38 L595.84,107.46 L596.11,107.53 L596.37,107.59 L596.64,107.65 L596.9,107.7 L597.17,107.75 L597.43,107.79 L597.7,107.83 L597.96,107.86 L598.23,107.89 L598.5,107.92 L598.76,107.94 L599.03,107.96 L599.29,107.98 L599.56,107.99 L599.82,108.01 L600.09,108.02 L600.35,108.03 L600.62,108.04 L600.88,108.05 L601.15,108.06 Z" fill="#4a9e80"/>
<line x1="540.6" y1="108.1" x2="603" y2="108.1" stroke="#6a6a6a" stroke-width="0.9" stroke-linecap="butt" />
<path d="M547.7,94.04 L548.02,94.02 L548.33,93.99 L548.65,93.96 L548.96,93.93 L549.28,93.9 L549.59,93.85 L549.91,93.81 L550.22,93.76 L550.54,93.7 L550.85,93.64 L551.17,93.58 L551.48,93.5 L551.8,93.43 L552.11,93.34 L552.43,93.25 L552.74,93.14 L553.06,93.04 L553.37,92.92 L553.69,92.79 L554,92.66 L554.32,92.52 L554.63,92.37 L554.95,92.21 L555.26,92.04 L555.58,91.87 L555.89,91.69 L556.21,91.51 L556.52,91.31 L556.84,91.12 L557.15,90.92 L557.47,90.71 L557.78,90.51 L558.1,90.3 L558.41,90.1 L558.73,89.9 L559.04,89.7 L559.36,89.51 L559.67,89.33 L559.99,89.16 L560.3,89.01 L560.62,88.86 L560.93,88.73 L561.25,88.62 L561.56,88.53 L561.88,88.47 L562.19,88.42 L562.5,88.4 L562.82,88.41 L563.13,88.44 L563.45,88.5 L563.77,88.58 L564.08,88.7 L564.4,88.84 L564.71,89.01 L565.03,89.21 L565.34,89.42 L565.66,89.67 L565.97,89.93 L566.29,90.21 L566.6,90.5 L566.92,90.81 L567.23,91.12 L567.55,91.44 L567.86,91.76 L568.18,92.07 L568.49,92.38 L568.81,92.67 L569.12,92.95 L569.44,93.21 L569.75,93.44 L570.07,93.65 L570.38,93.83 L570.7,93.98 L571.01,94.09 L571.33,94.16 L571.64,94.2 L571.96,94.19 L572.27,94.15 L572.59,94.07 L572.9,93.96 L573.22,93.81 L573.53,93.63 L573.85,93.42 L574.16,93.18 L574.48,92.92 L574.79,92.65 L575.11,92.36 L575.42,92.07 L575.74,91.78 L576.05,91.49 L576.37,91.2 L576.68,90.94 L577,90.69 L577.31,90.46 L577.62,90.26 L577.94,90.09 L578.25,89.96 L578.57,89.86 L578.88,89.8 L579.2,89.78 L579.52,89.8 L579.83,89.86 L580.15,89.96 L580.46,90.09 L580.78,90.26 L581.09,90.46 L581.41,90.69 L581.72,90.94 L582.04,91.2 L582.35,91.49 L582.67,91.78 L582.98,92.07 L583.3,92.36 L583.61,92.65 L583.93,92.92 L584.24,93.18 L584.56,93.42 L584.87,93.63 L585.19,93.81 L585.5,93.96 L585.82,94.07 L586.13,94.15 L586.45,94.19 L586.76,94.2 L587.08,94.16 L587.39,94.09 L587.71,93.98 L588.02,93.83 L588.34,93.65 L588.65,93.44 L588.97,93.21 L589.28,92.95 L589.6,92.67 L589.91,92.38 L590.23,92.07 L590.54,91.76 L590.86,91.44 L591.17,91.12 L591.49,90.81 L591.8,90.5 L592.12,90.21 L592.43,89.93 L592.75,89.67 L593.06,89.42 L593.38,89.21 L593.69,89.01 L594,88.84 L594.32,88.7 L594.63,88.58 L594.95,88.5 L595.27,88.44 L595.58,88.41 L595.9,88.4 L596.21,88.42 L596.53,88.47 L596.84,88.53 L597.16,88.62 L597.47,88.73 L597.79,88.86 L598.1,89.01 L598.42,89.16 L598.73,89.33 L599.05,89.51 L599.36,89.7 L599.68,89.9 L599.99,90.1 L600.31,90.3 L600.62,90.51 L600.94,90.71 L601.25,90.92 L601.57,91.12 L601.88,91.31 L602.2,91.51 L602.51,91.69 L602.83,91.87 L603.14,92.04 L603.46,92.21 L603.77,92.37 L604.09,92.52 L604.4,92.66 L604.72,92.79 L605.03,92.92 L605.35,93.04 L605.66,93.14 L605.98,93.25 L606.29,93.34 L606.61,93.43 L606.92,93.5 L607.24,93.58 L607.55,93.64 L607.87,93.7 L608.18,93.76 L608.5,93.81 L608.81,93.85 L609.12,93.9 L609.44,93.93 L609.75,93.96 L610.07,93.99 L610.38,94.02 L610.7,94.04 Z" fill="#4a9e80"/>
<line x1="540.6" y1="94.2" x2="617.5" y2="94.2" stroke="#6a6a6a" stroke-width="0.9" stroke-linecap="butt" />
<path d="M545.96,88.27 L546.32,88.25 L546.68,88.22 L547.04,88.19 L547.4,88.16 L547.76,88.12 L548.12,88.07 L548.48,88.02 L548.84,87.96 L549.2,87.9 L549.56,87.83 L549.92,87.75 L550.28,87.66 L550.65,87.56 L551.01,87.45 L551.37,87.33 L551.73,87.2 L552.09,87.06 L552.45,86.91 L552.81,86.75 L553.17,86.58 L553.53,86.4 L553.89,86.21 L554.25,86.01 L554.61,85.8 L554.97,85.58 L555.33,85.36 L555.69,85.14 L556.05,84.92 L556.41,84.69 L556.77,84.47 L557.13,84.26 L557.49,84.05 L557.85,83.86 L558.21,83.68 L558.57,83.52 L558.93,83.38 L559.29,83.27 L559.66,83.18 L560.02,83.12 L560.38,83.1 L560.74,83.11 L561.1,83.16 L561.46,83.24 L561.82,83.37 L562.18,83.53 L562.54,83.72 L562.9,83.95 L563.26,84.22 L563.62,84.51 L563.98,84.82 L564.34,85.15 L564.7,85.5 L565.06,85.86 L565.42,86.21 L565.78,86.56 L566.14,86.9 L566.5,87.22 L566.86,87.51 L567.22,87.77 L567.58,87.99 L567.94,88.17 L568.3,88.3 L568.67,88.37 L569.03,88.4 L569.39,88.37 L569.75,88.29 L570.11,88.16 L570.47,87.98 L570.83,87.76 L571.19,87.5 L571.55,87.22 L571.91,86.91 L572.27,86.59 L572.63,86.27 L572.99,85.95 L573.35,85.65 L573.71,85.38 L574.07,85.14 L574.43,84.94 L574.79,84.78 L575.15,84.68 L575.51,84.64 L575.87,84.65 L576.23,84.72 L576.59,84.84 L576.95,85.02 L577.31,85.24 L577.68,85.51 L578.04,85.8 L578.4,86.12 L578.76,86.45 L579.12,86.79 L579.48,87.11 L579.84,87.42 L580.2,87.7 L580.56,87.94 L580.92,88.14 L581.28,88.28 L581.64,88.37 L582,88.4 L582.36,88.37 L582.72,88.28 L583.08,88.14 L583.44,87.94 L583.8,87.7 L584.16,87.42 L584.52,87.11 L584.88,86.79 L585.24,86.45 L585.6,86.12 L585.96,85.8 L586.32,85.51 L586.69,85.24 L587.05,85.02 L587.41,84.84 L587.77,84.72 L588.13,84.65 L588.49,84.64 L588.85,84.68 L589.21,84.78 L589.57,84.94 L589.93,85.14 L590.29,85.38 L590.65,85.65 L591.01,85.95 L591.37,86.27 L591.73,86.59 L592.09,86.91 L592.45,87.22 L592.81,87.5 L593.17,87.76 L593.53,87.98 L593.89,88.16 L594.25,88.29 L594.61,88.37 L594.97,88.4 L595.33,88.37 L595.7,88.3 L596.06,88.17 L596.42,87.99 L596.78,87.77 L597.14,87.51 L597.5,87.22 L597.86,86.9 L598.22,86.56 L598.58,86.21 L598.94,85.86 L599.3,85.5 L599.66,85.15 L600.02,84.82 L600.38,84.51 L600.74,84.22 L601.1,83.95 L601.46,83.72 L601.82,83.53 L602.18,83.37 L602.54,83.24 L602.9,83.16 L603.26,83.11 L603.62,83.1 L603.98,83.12 L604.34,83.18 L604.71,83.27 L605.07,83.38 L605.43,83.52 L605.79,83.68 L606.15,83.86 L606.51,84.05 L606.87,84.26 L607.23,84.47 L607.59,84.69 L607.95,84.92 L608.31,85.14 L608.67,85.36 L609.03,85.58 L609.39,85.8 L609.75,86.01 L610.11,86.21 L610.47,86.4 L610.83,86.58 L611.19,86.75 L611.55,86.91 L611.91,87.06 L612.27,87.2 L612.63,87.33 L612.99,87.45 L613.35,87.56 L613.72,87.66 L614.08,87.75 L614.44,87.83 L614.8,87.9 L615.16,87.96 L615.52,88.02 L615.88,88.07 L616.24,88.12 L616.6,88.16 L616.96,88.19 L617.32,88.22 L617.68,88.25 L618.04,88.27 Z" fill="#4a9e80"/>
<line x1="540.6" y1="88.4" x2="624" y2="88.4" stroke="#6a6a6a" stroke-width="0.9" stroke-linecap="butt" />
<path d="M545.91,82.34 L546.3,82.33 L546.69,82.31 L547.08,82.3 L547.47,82.27 L547.86,82.25 L548.25,82.22 L548.64,82.18 L549.03,82.14 L549.41,82.09 L549.8,82.04 L550.19,81.97 L550.58,81.9 L550.97,81.82 L551.36,81.72 L551.75,81.62 L552.14,81.5 L552.53,81.38 L552.91,81.24 L553.3,81.08 L553.69,80.92 L554.08,80.74 L554.47,80.55 L554.86,80.35 L555.25,80.15 L555.64,79.93 L556.03,79.71 L556.41,79.49 L556.8,79.27 L557.19,79.06 L557.58,78.85 L557.97,78.66 L558.36,78.48 L558.75,78.32 L559.14,78.19 L559.52,78.09 L559.91,78.03 L560.3,78 L560.69,78.01 L561.08,78.07 L561.47,78.17 L561.86,78.31 L562.25,78.5 L562.64,78.72 L563.02,78.99 L563.41,79.28 L563.8,79.61 L564.19,79.95 L564.58,80.3 L564.97,80.65 L565.36,81 L565.75,81.32 L566.14,81.62 L566.52,81.88 L566.91,82.1 L567.3,82.26 L567.69,82.36 L568.08,82.4 L568.47,82.38 L568.86,82.29 L569.25,82.14 L569.63,81.94 L570.02,81.7 L570.41,81.42 L570.8,81.11 L571.19,80.79 L571.58,80.48 L571.97,80.18 L572.36,79.92 L572.75,79.69 L573.13,79.52 L573.52,79.42 L573.91,79.38 L574.3,79.4 L574.69,79.5 L575.08,79.67 L575.47,79.89 L575.86,80.16 L576.25,80.46 L576.63,80.79 L577.02,81.12 L577.41,81.45 L577.8,81.74 L578.19,81.99 L578.58,82.19 L578.97,82.33 L579.36,82.39 L579.74,82.39 L580.13,82.3 L580.52,82.15 L580.91,81.94 L581.3,81.67 L581.69,81.37 L582.08,81.05 L582.47,80.72 L582.86,80.41 L583.24,80.13 L583.63,79.89 L584.02,79.72 L584.41,79.61 L584.8,79.57 L585.19,79.61 L585.58,79.72 L585.97,79.89 L586.36,80.13 L586.74,80.41 L587.13,80.72 L587.52,81.05 L587.91,81.37 L588.3,81.67 L588.69,81.94 L589.08,82.15 L589.47,82.3 L589.86,82.39 L590.24,82.39 L590.63,82.33 L591.02,82.19 L591.41,81.99 L591.8,81.74 L592.19,81.45 L592.58,81.12 L592.97,80.79 L593.35,80.46 L593.74,80.16 L594.13,79.89 L594.52,79.67 L594.91,79.5 L595.3,79.4 L595.69,79.38 L596.08,79.42 L596.47,79.52 L596.85,79.69 L597.24,79.92 L597.63,80.18 L598.02,80.48 L598.41,80.79 L598.8,81.11 L599.19,81.42 L599.58,81.7 L599.97,81.94 L600.35,82.14 L600.74,82.29 L601.13,82.38 L601.52,82.4 L601.91,82.36 L602.3,82.26 L602.69,82.1 L603.08,81.88 L603.46,81.62 L603.85,81.32 L604.24,81 L604.63,80.65 L605.02,80.3 L605.41,79.95 L605.8,79.61 L606.19,79.28 L606.58,78.99 L606.96,78.72 L607.35,78.5 L607.74,78.31 L608.13,78.17 L608.52,78.07 L608.91,78.01 L609.3,78 L609.69,78.03 L610.08,78.09 L610.46,78.19 L610.85,78.32 L611.24,78.48 L611.63,78.66 L612.02,78.85 L612.41,79.06 L612.8,79.27 L613.19,79.49 L613.57,79.71 L613.96,79.93 L614.35,80.15 L614.74,80.35 L615.13,80.55 L615.52,80.74 L615.91,80.92 L616.3,81.08 L616.69,81.24 L617.07,81.38 L617.46,81.5 L617.85,81.62 L618.24,81.72 L618.63,81.82 L619.02,81.9 L619.41,81.97 L619.8,82.04 L620.19,82.09 L620.57,82.14 L620.96,82.18 L621.35,82.22 L621.74,82.25 L622.13,82.27 L622.52,82.3 L622.91,82.31 L623.3,82.33 L623.68,82.34 Z" fill="#4a9e80"/>
<line x1="540.6" y1="82.4" x2="631" y2="82.4" stroke="#6a6a6a" stroke-width="0.9" stroke-linecap="butt" />
<path d="M535.9,53 C536.17,55.83 536.92,64.65 537.5,70 C538.08,75.35 538.77,80.27 539.4,85.1 C540.03,89.93 540.63,94.53 541.3,99 C541.97,103.47 542.65,107.82 543.4,111.9 C544.15,115.98 544.92,119.93 545.8,123.5 C546.68,127.07 547.32,129.65 548.7,133.3 C550.08,136.95 551.87,142.72 554.1,145.4 C556.33,148.08 558.98,149.4 562.1,149.4 C565.22,149.4 569.23,148.08 572.8,145.4 C576.37,142.72 579.93,137.53 583.5,133.3 C587.07,129.07 590.97,124.08 594.2,120 C597.43,115.92 599.33,112.78 602.9,108.8 C606.47,104.82 610.9,100.48 615.6,96.1 C620.3,91.72 626.2,86.35 631.1,82.5 C636,78.65 640.3,75.92 645,73 C649.7,70.08 656.92,66.33 659.3,65" stroke="#000" stroke-width="2.6" fill="none" />
<line x1="545.9" y1="93" x2="545.9" y2="174.8" stroke="#000" stroke-width="2.2" stroke-linecap="butt" />
<path d="M542.2,94 L549.6,94 L545.9,86.3 Z" stroke="none" stroke-width="1" fill="#000" />
<line x1="557.9" y1="94.2" x2="557.9" y2="174.8" stroke="#2a48f0" stroke-width="2.2" stroke-linecap="butt" />
<line x1="573.8" y1="108.1" x2="573.8" y2="174.8" stroke="#10b050" stroke-width="2.2" stroke-linecap="butt" />
<line x1="588" y1="122.2" x2="588" y2="174.8" stroke="#f01418" stroke-width="2.2" stroke-linecap="butt" />
<path d="M553.3,132.1 L557.9,139.3 L562.5,132.1" stroke="#2a48f0" stroke-width="2" fill="none" stroke-linejoin="miter" stroke-linecap="butt"/>
<path d="M569.2,132.1 L573.8,139.3 L578.4,132.1" stroke="#10b050" stroke-width="2" fill="none" stroke-linejoin="miter" stroke-linecap="butt"/>
<path d="M583.4,132.1 L588,139.3 L592.6,132.1" stroke="#f01418" stroke-width="2" fill="none" stroke-linejoin="miter" stroke-linecap="butt"/>
<ellipse cx="572.5" cy="162" rx="20.5" ry="7.6" fill="none" stroke="#000" stroke-width="1.4" stroke-dasharray="4,2.6"/>
<path d="M594.2,157.6 L596.8,160 L606.8,160" stroke="#000" stroke-width="1.2" fill="none" />
<text transform="translate(612.2,167.6) scale(0.85,1)" font-family="Liberation Sans" font-size="13.2">CL</text>
<line x1="537" y1="174.8" x2="619" y2="174.8" stroke="#000" stroke-width="3" stroke-linecap="butt" />
<text transform="translate(528.8000000000001,167.2) skewX(-9)" font-family="Liberation Sans" font-weight="bold" font-style="italic" font-size="14.6" fill="#000">e</text>
<line x1="537.2" y1="157.6" x2="540.2" y2="157.6" stroke="#000" stroke-width="1.1" stroke-linecap="butt" />
<text x="543.7" y="44.8" font-family="Liberation Sans" font-size="13.2" font-weight="normal" font-style="normal" fill="#000" text-anchor="start" >Coherent</text>
<text x="543.9" y="61.5" font-family="Liberation Sans" font-size="13.3" font-weight="normal" font-style="normal" fill="#000" text-anchor="start" >superposition</text>
<path d="M620.6,129.5 C622.67,132.58 629.48,139.93 633,148 C636.52,156.07 640.45,169.23 641.7,177.9 C642.95,186.57 641.78,194.15 640.5,200 C639.22,205.85 637.75,208.3 634,213 C630.25,217.7 623.08,223.62 618,228.2 C612.92,232.78 605.92,238.45 603.5,240.5" stroke="#8b3f12" stroke-width="1.6" fill="none" />
<path d="M596.4,246.1 L602.5,234.3 L603.3,240.2 L609.5,244.3 Z" stroke="none" stroke-width="1" fill="#8b3f12" />
<path d="M424.4,321.8 L425,321.57 L425.6,321.29 L426.2,321.38 L426.8,321.34 L427.4,321.46 L428,320.78 L428.6,321.11 L429.2,320.62 L429.8,320.2 L430.4,320.2 L431,319.52 L431.6,319.12 L432.2,318.85 L432.8,318.54 L433.4,317.67 L434,317.36 L434.6,316.78 L435.2,316.3 L435.8,315.97 L436.4,315.27 L437,314.86 L437.6,314.32 L438.2,314.25 L438.8,313.55 L439.4,313.22 L440,312.8 L440.6,311.71 L441.2,311.51 L441.8,311.37 L442.4,310.81 L443,309.7 L443.6,309.21 L444.2,309.02 L444.8,308.21 L445.4,307.91 L446,307.4 L446.6,307.58 L447.2,307.33 L447.8,307.07 L448.4,306.05 L449,306.2 L449.6,305.79 L450.2,304.97 L450.8,305.28 L451.4,304.92 L452,303.65 L452.6,303.71 L453.2,302.61 L453.8,302.09 L454.4,301.94 L455,301.2 L455.6,299.92 L456.2,299.42 L456.8,298.75 L457.4,297.84 L458,296.97 L458.6,296.33 L459.2,296.05 L459.8,294.96 L460.4,294.99 L461,294.44 L461.6,293.6 L462.2,293.43 L462.8,293.24 L463.4,292.69 L464,291.84 L464.6,292.23 L465.2,291.62 L465.8,291.34 L466.4,290.13 L467,289.83 L467.6,289.19 L468.2,289.42 L468.8,288.5 L469.4,287.84 L470,287.57 L470.6,287.47 L471.2,286.85 L471.8,285.81 L472.4,285.17 L473,285.33 L473.6,284.47 L474.2,284.04 L474.8,282.94 L475.4,282.36 L476,282.37 L476.6,281.59 L477.2,280.72 L477.8,280.95 L478.4,280.12 L479,279.79 L479.6,278.66 L480.2,278.87 L480.8,277.68 L481.4,277.92 L482,277.07 L482.6,276.48 L483.2,276.19 L483.8,276.04 L484.4,275.02 L485,274.48 L485.6,274.42 L486.2,273.75 L486.8,273.22 L487.4,272.85 L488,272.34 L488.6,272.06 L489.2,271.75 L489.8,271.33 L490.4,271.36 L491,270.6 L491.6,270.44 L492.2,269.81 L492.8,269.62 L493.4,268.98 L494,268.85 L494.6,268.29 L495.2,268.62 L495.8,268.2 L496.4,267.61 L497,267.6 L497.6,267.75 L498.2,266.75 L498.8,267.12 L499.4,266.51 L500,266.33 L500.6,266.44 L501.2,265.85 L501.8,265.76 L502.4,265.73 L503,265.8 L503.6,265.03 L504.2,265.28 L504.8,264.98 L505.4,264.72 L506,264.18 L506.6,263.65 L507.2,262.91 L507.8,262.51 L508.4,261.98 L509,262.11 L509.6,261.23 L510.2,260.86 L510.8,260.49 L511.4,260.88 L512,260.62 L512.6,260.14 L513.2,259.5 L513.8,259.39 L514.4,259.47 L515,259.65 L515.6,259.41 L516.2,259.71 L516.8,259.58 L517.4,260.25 L518,260.32 L518.6,259.99 L519.2,259.78 L519.8,260.49 L520.4,259.95 L521,260.05 L521.6,259.7 L522.2,259.97 L522.8,259.98 L523.4,259.93 L524,259.58 L524.6,259.78 L525.2,259.25 L525.8,259.41 L526.4,259.12 L527,259.23 L527.6,258.75 L528.2,258.57 L528.8,258.65 L529.4,258.42 L530,258.58 L530.6,258.46 L531.2,258.59 L531.8,258.43 L532.4,258.41 L533,258.49 L533.6,257.98 L534.2,257.85 L534.8,258.38 L535.4,257.55 L536,258 L536.6,257.86 L537.2,257.25 L537.8,257.89 L538.4,257.87 L539,257.56 L539.6,257.58 L540.2,257.58 L540.8,256.91 L541.4,257.18 L542,257.08 L542.6,257.26 L543.2,257.12 L543.8,257.02 L544.4,256.68 L545,256.84 L545.6,256.54 L546.2,256.43 L546.8,255.89 L547.4,255.59 L548,255.57 L548.6,255.69 L549.2,255.55 L549.8,256.3 L550.4,256.15 L551,256.3 L551.6,256.4 L552.2,256.54 L552.8,256.46 L553.4,256.16 L554,257.03 L554.6,257.14 L555.2,257.07 L555.8,257.26 L556.4,257.53 L557,257.15 L557.6,257.91 L558.2,257.6 L558.8,257.53 L559.4,257.78 L560,258.28 L560.6,257.89 L561.2,258.46 L561.8,258.75 L562.4,258.4 L563,258.38 L563.6,258.55 L564.2,258.57 L564.8,258.34 L565.4,257.91 L566,257.63 L566.6,256.82 L567.2,256.52 L567.8,256.11 L568.4,256.05 L569,255.16 L569.6,254.89 L570.2,253.95 L570.8,253.65 L571.4,253.5 L572,253.52 L572.6,253.2 L573.2,252.9 L573.8,252.38 L574.4,252.41 L575,252.2 L575.6,252.03 L576.2,251.78 L576.8,252.67 L577.4,252.23 L578,253.12 L578.6,253.27 L579.2,252.62 L579.8,253.16 L580.4,253.64 L581,253.92 L581.6,253.6 L582.2,253.59 L582.8,253.69 L583.4,254.5 L584,253.98 L584.6,254.46 L585.2,254.21 L585.8,254.69 L586.4,255.22 L587,254.63 L587.6,255.39 L588.2,255.26 L588.8,255.77 L589.4,255.77 L590,255.52 L590.6,256.28 L591.2,256.08 L591.8,255.83 L592.4,255.98 L593,256.6 L593.6,256.74 L594.2,256.79 L594.8,256.82 L595.4,257.18 L596,257.34 L596.6,257.99 L597.2,257.43 L597.8,258.35 L598.4,258.67 L599,258.26 L599.6,259.22 L600.2,259.26 L600.8,259.65 L601.4,259.31 L602,259.6 L602.6,259.84 L603.2,260.6 L603.8,260.45 L604.4,260.46 L605,260.74 L605.6,260.86 L606.2,260.92 L606.8,261.23 L607.4,262.16 L608,261.93 L608.6,262.78 L609.2,262.42 L609.8,262.7 L610.4,263.21 L611,263.22 L611.6,263.69 L612.2,264.51 L612.8,264.75 L613.4,264.98 L614,265.12 L614.6,265.67 L615.2,266 L615.8,265.94 L616.4,266.4 L617,266.09 L617.6,267.01 L618.2,267.06 L618.8,267.63 L619.4,267.83 L620,267.81 L620.6,267.89 L621.2,268.98 L621.8,268.56 L622.4,269.17 L623,269.36 L623.6,269.62 L624.2,270.32 L624.8,270.83 L625.4,270.48 L626,271.14 L626.6,271.12 L627.2,271.65 L627.8,271.8 L628.4,271.9 L629,272.2 L629.6,272.64 L630.2,273.67 L630.8,273.7 L631.4,273.85 L632,274.87 L632.6,275.41 L633.2,275.37 L633.8,275.56 L634.4,276.06 L635,276.43 L635.6,277.26 L636.2,277.63 L636.8,278.37 L637.4,278.98 L638,279.86 L638.6,281.1 L639.2,281.92 L639.8,282.57 L640.4,283.52 L641,284.57 L641.6,285.5 L641.6,376.3 L424.4,376.3 Z" stroke="none" stroke-width="1" fill="#d0f0bc" />
<line x1="434.97" y1="247.2" x2="434.97" y2="376.3" stroke="#000" stroke-width="0.8" stroke-linecap="butt" stroke-opacity="0.1"/>
<line x1="463.4" y1="247.2" x2="463.4" y2="376.3" stroke="#000" stroke-width="0.8" stroke-linecap="butt" stroke-opacity="0.1"/>
<line x1="491.82" y1="247.2" x2="491.82" y2="376.3" stroke="#000" stroke-width="0.8" stroke-linecap="butt" stroke-opacity="0.1"/>
<line x1="520.25" y1="247.2" x2="520.25" y2="376.3" stroke="#000" stroke-width="0.8" stroke-linecap="butt" stroke-opacity="0.1"/>
<line x1="548.67" y1="247.2" x2="548.67" y2="376.3" stroke="#000" stroke-width="0.8" stroke-linecap="butt" stroke-opacity="0.1"/>
<line x1="577.1" y1="247.2" x2="577.1" y2="376.3" stroke="#000" stroke-width="0.8" stroke-linecap="butt" stroke-opacity="0.1"/>
<line x1="605.52" y1="247.2" x2="605.52" y2="376.3" stroke="#000" stroke-width="0.8" stroke-linecap="butt" stroke-opacity="0.1"/>
<line x1="633.95" y1="247.2" x2="633.95" y2="376.3" stroke="#000" stroke-width="0.8" stroke-linecap="butt" stroke-opacity="0.1"/>
<line x1="424.4" y1="265.64" x2="641.6" y2="265.64" stroke="#000" stroke-width="0.8" stroke-linecap="butt" stroke-opacity="0.1"/>
<line x1="424.4" y1="284.09" x2="641.6" y2="284.09" stroke="#000" stroke-width="0.8" stroke-linecap="butt" stroke-opacity="0.1"/>
<line x1="424.4" y1="302.53" x2="641.6" y2="302.53" stroke="#000" stroke-width="0.8" stroke-linecap="butt" stroke-opacity="0.1"/>
<line x1="424.4" y1="320.97" x2="641.6" y2="320.97" stroke="#000" stroke-width="0.8" stroke-linecap="butt" stroke-opacity="0.1"/>
<line x1="424.4" y1="339.41" x2="641.6" y2="339.41" stroke="#000" stroke-width="0.8" stroke-linecap="butt" stroke-opacity="0.1"/>
<line x1="424.4" y1="357.86" x2="641.6" y2="357.86" stroke="#000" stroke-width="0.8" stroke-linecap="butt" stroke-opacity="0.1"/>
<g clip-path="url(#clipD)">
<path d="M424.6,366.5 C425.08,366.78 426.4,368.23 427.5,368.2 C428.6,368.17 430.12,366 431.2,366.3 C432.28,366.6 433.15,369.77 434,370 C434.85,370.23 435.53,367.77 436.3,367.7 C437.07,367.63 437.83,369.6 438.6,369.6 C439.37,369.6 440.05,367.32 440.9,367.7 C441.75,368.08 442.77,371.97 443.7,371.9 C444.63,371.83 445.5,368.3 446.5,367.3 C447.5,366.3 448.7,365.52 449.7,365.9 C450.7,366.28 451.57,369.3 452.5,369.6 C453.43,369.9 454.22,368.17 455.3,367.7 C456.38,367.23 457.77,366.48 459,366.8 C460.23,367.12 461.47,369.75 462.7,369.6 C463.93,369.45 465.48,366.28 466.4,365.9 C467.32,365.52 467.28,367.62 468.2,367.3 C469.12,366.98 470.75,364 471.9,364 C473.05,364 474,367.45 475.1,367.3 C476.2,367.15 477.38,363.15 478.5,363.1 C479.62,363.05 480.6,367.33 481.8,367 C483,366.67 484.4,361.43 485.7,361.1 C487,360.77 488.13,365.63 489.6,365 C491.07,364.37 493.05,357.45 494.5,357.3 C495.95,357.15 496.85,364.43 498.3,364.1 C499.75,363.77 501.73,355.63 503.2,355.3 C504.67,354.97 505.63,361.77 507.1,362.1 C508.57,362.43 510.38,357.13 512,357.3 C513.62,357.47 515.02,363.6 516.8,363.1 C518.58,362.6 520.92,354.63 522.7,354.3 C524.48,353.97 525.4,361.42 527.5,361.1 C529.6,360.78 533.18,352.72 535.3,352.4 C537.42,352.08 537.95,358.88 540.2,359.2 C542.45,359.52 546.4,353.65 548.8,354.3 C551.2,354.95 552.82,361.8 554.6,363.1 C556.38,364.4 558.05,362.58 559.5,362.1 C560.95,361.62 561.85,360.2 563.3,360.2 C564.75,360.2 566.25,360.72 568.2,362.1 C570.15,363.48 573.05,368.17 575,368.5 C576.95,368.83 578.28,364.68 579.9,364.1 C581.52,363.52 582.75,365.17 584.7,365 C586.65,364.83 589.65,363.58 591.6,363.1 C593.55,362.62 594.62,362.1 596.4,362.1 C598.18,362.1 600.18,362.45 602.3,363.1 C604.42,363.75 606.52,365.35 609.1,366 C611.68,366.65 614.73,366.77 617.8,367 C620.87,367.23 624.58,367.23 627.5,367.4 C630.42,367.57 633.02,367.65 635.3,368 C637.58,368.35 640.22,369.25 641.2,369.5" stroke="#0072bd" stroke-width="2.6" fill="none" stroke-linejoin="round"/>
<path d="M424.6,360.5 C424.78,360.63 425.22,360.63 425.7,361.3 C426.18,361.97 426.8,364.35 427.5,364.5 C428.2,364.65 429.28,362.43 429.9,362.2 C430.52,361.97 430.67,363.33 431.2,363.1 C431.73,362.87 432.48,360.95 433.1,360.8 C433.72,360.65 434.28,362.35 434.9,362.2 C435.52,362.05 436.1,359.98 436.8,359.9 C437.5,359.82 438.33,361.55 439.1,361.7 C439.87,361.85 440.55,361.65 441.4,360.8 C442.25,359.95 443.43,356.37 444.2,356.6 C444.97,356.83 445.23,361.88 446,362.2 C446.77,362.52 448.1,358.82 448.8,358.5 C449.5,358.18 449.5,360.62 450.2,360.3 C450.9,359.98 452.15,356.75 453,356.6 C453.85,356.45 454.47,359.7 455.3,359.4 C456.13,359.1 457.08,355.1 458,354.8 C458.92,354.5 459.95,358.3 460.8,357.6 C461.65,356.9 462.33,350.92 463.1,350.6 C463.87,350.28 464.4,356.15 465.4,355.7 C466.4,355.25 468.1,348.2 469.1,347.9 C470.1,347.6 470.47,353.68 471.4,353.9 C472.33,354.12 473.62,349.2 474.7,349.2 C475.78,349.2 476.55,354.5 477.9,353.9 C479.25,353.3 481.33,346.18 482.8,345.6 C484.27,345.02 485.4,350.88 486.7,350.4 C488,349.92 489.3,343.02 490.6,342.7 C491.9,342.38 493.05,348.83 494.5,348.5 C495.95,348.17 497.68,340.53 499.3,340.7 C500.92,340.87 502.58,350.15 504.2,349.5 C505.82,348.85 507.38,336.48 509,336.8 C510.62,337.12 512.12,351.4 513.9,351.4 C515.68,351.4 517.92,336.97 519.7,336.8 C521.48,336.63 522.65,350.88 524.6,350.4 C526.55,349.92 529.28,334.05 531.4,333.9 C533.52,333.75 535.28,349.82 537.3,349.5 C539.32,349.18 541.92,333.47 543.5,332 C545.08,330.53 545.6,337.47 546.8,340.7 C548,343.93 549.4,350.27 550.7,351.4 C552,352.53 553.3,349.45 554.6,347.5 C555.9,345.55 557.2,339.85 558.5,339.7 C559.8,339.55 561.1,344 562.4,346.6 C563.7,349.2 565.17,354.33 566.3,355.3 C567.43,356.27 568.23,353.05 569.2,352.4 C570.17,351.75 570.97,352.47 572.1,351.4 C573.23,350.33 574.87,346.32 576,346 C577.13,345.68 577.6,348.12 578.9,349.5 C580.2,350.88 582.02,354.3 583.8,354.3 C585.58,354.3 587.67,350.88 589.6,349.5 C591.53,348.12 593.62,346.17 595.4,346 C597.18,345.83 598.67,347.27 600.3,348.5 C601.93,349.73 603.58,351.88 605.2,353.4 C606.82,354.92 608.38,357.02 610,357.6 C611.62,358.18 612.95,357.45 614.9,356.9 C616.85,356.35 619.92,354.4 621.7,354.3 C623.48,354.2 624.13,355.17 625.6,356.3 C627.07,357.43 628.88,359.97 630.5,361.1 C632.12,362.23 633.52,362.93 635.3,363.1 C637.08,363.27 640.22,362.27 641.2,362.1" stroke="#d95319" stroke-width="2.6" fill="none" stroke-linejoin="round"/>
<path d="M424.5,344.5 C424.87,343.3 426.1,337.92 426.7,337.3 C427.3,336.68 427.57,341.47 428.1,340.8 C428.63,340.13 429.32,333.68 429.9,333.3 C430.48,332.92 430.97,338.22 431.6,338.5 C432.23,338.78 432.97,336.55 433.7,335 C434.43,333.45 435.23,329.4 436,329.2 C436.77,329 437.52,334.2 438.3,333.8 C439.08,333.4 440.02,327.18 440.7,326.8 C441.38,326.42 441.82,332.47 442.4,331.5 C442.98,330.53 443.62,322.45 444.2,321 C444.78,319.55 445.32,323.48 445.9,322.8 C446.48,322.12 447.12,317 447.7,316.9 C448.28,316.8 448.63,322.78 449.4,322.2 C450.17,321.62 451.52,313.5 452.3,313.4 C453.08,313.3 453.32,321.88 454.1,321.6 C454.88,321.32 456.17,311.8 457,311.7 C457.83,311.6 458.22,321.58 459.1,321 C459.98,320.42 461.38,308.58 462.3,308.2 C463.22,307.82 463.73,319.18 464.6,318.7 C465.47,318.22 466.58,305.12 467.5,305.3 C468.42,305.48 469.13,319.32 470.1,319.8 C471.07,320.28 472.27,309.37 473.3,308.2 C474.33,307.03 475.2,312.98 476.3,312.8 C477.4,312.62 478.57,306.82 479.9,307.1 C481.23,307.38 483.02,314.42 484.3,314.5 C485.58,314.58 486.72,307.77 487.6,307.6 C488.48,307.43 488.87,312.85 489.6,313.5 C490.33,314.15 490.87,312.15 492,311.5 C493.13,310.85 495.02,308.47 496.4,309.6 C497.78,310.73 499,317.48 500.3,318.3 C501.6,319.12 502.75,314.17 504.2,314.5 C505.65,314.83 507.22,320.47 509,320.3 C510.78,320.13 513.17,312.85 514.9,313.5 C516.63,314.15 517.45,324.37 519.4,324.2 C521.35,324.03 524.43,313.32 526.6,312.5 C528.77,311.68 530.3,320.12 532.4,319.3 C534.5,318.48 537.28,308.57 539.2,307.6 C541.12,306.63 542.47,312.35 543.9,313.5 C545.33,314.65 546.5,315.48 547.8,314.5 C549.1,313.52 550.4,307.93 551.7,307.6 C553,307.27 554.15,310.55 555.6,312.5 C557.05,314.45 559.12,318.97 560.4,319.3 C561.68,319.63 562.17,315.47 563.3,314.5 C564.43,313.53 565.9,312.7 567.2,313.5 C568.5,314.3 569.8,318 571.1,319.3 C572.4,320.6 573.53,320.23 575,321.3 C576.47,322.37 578.6,325.38 579.9,325.7 C581.2,326.02 581.5,325.07 582.8,323.2 C584.1,321.33 586.23,316.22 587.7,314.5 C589.17,312.78 590.32,312.75 591.6,312.9 C592.88,313.05 593.95,314.23 595.4,315.4 C596.85,316.57 598.83,318.5 600.3,319.9 C601.77,321.3 602.73,323.15 604.2,323.8 C605.67,324.45 607.63,323.9 609.1,323.8 C610.57,323.7 611.72,322.48 613,323.2 C614.28,323.92 615.35,326.7 616.8,328.1 C618.25,329.5 620.07,330.7 621.7,331.6 C623.33,332.5 624.98,333.28 626.6,333.5 C628.22,333.72 629.78,332.45 631.4,332.9 C633.02,333.35 634.67,335.38 636.3,336.2 C637.93,337.02 640.38,337.53 641.2,337.8" stroke="#7e2f8e" stroke-width="2.6" fill="none" stroke-linejoin="round"/>
<path d="M424.4,321.8 L425,321.57 L425.6,321.29 L426.2,321.38 L426.8,321.34 L427.4,321.46 L428,320.78 L428.6,321.11 L429.2,320.62 L429.8,320.2 L430.4,320.2 L431,319.52 L431.6,319.12 L432.2,318.85 L432.8,318.54 L433.4,317.67 L434,317.36 L434.6,316.78 L435.2,316.3 L435.8,315.97 L436.4,315.27 L437,314.86 L437.6,314.32 L438.2,314.25 L438.8,313.55 L439.4,313.22 L440,312.8 L440.6,311.71 L441.2,311.51 L441.8,311.37 L442.4,310.81 L443,309.7 L443.6,309.21 L444.2,309.02 L444.8,308.21 L445.4,307.91 L446,307.4 L446.6,307.58 L447.2,307.33 L447.8,307.07 L448.4,306.05 L449,306.2 L449.6,305.79 L450.2,304.97 L450.8,305.28 L451.4,304.92 L452,303.65 L452.6,303.71 L453.2,302.61 L453.8,302.09 L454.4,301.94 L455,301.2 L455.6,299.92 L456.2,299.42 L456.8,298.75 L457.4,297.84 L458,296.97 L458.6,296.33 L459.2,296.05 L459.8,294.96 L460.4,294.99 L461,294.44 L461.6,293.6 L462.2,293.43 L462.8,293.24 L463.4,292.69 L464,291.84 L464.6,292.23 L465.2,291.62 L465.8,291.34 L466.4,290.13 L467,289.83 L467.6,289.19 L468.2,289.42 L468.8,288.5 L469.4,287.84 L470,287.57 L470.6,287.47 L471.2,286.85 L471.8,285.81 L472.4,285.17 L473,285.33 L473.6,284.47 L474.2,284.04 L474.8,282.94 L475.4,282.36 L476,282.37 L476.6,281.59 L477.2,280.72 L477.8,280.95 L478.4,280.12 L479,279.79 L479.6,278.66 L480.2,278.87 L480.8,277.68 L481.4,277.92 L482,277.07 L482.6,276.48 L483.2,276.19 L483.8,276.04 L484.4,275.02 L485,274.48 L485.6,274.42 L486.2,273.75 L486.8,273.22 L487.4,272.85 L488,272.34 L488.6,272.06 L489.2,271.75 L489.8,271.33 L490.4,271.36 L491,270.6 L491.6,270.44 L492.2,269.81 L492.8,269.62 L493.4,268.98 L494,268.85 L494.6,268.29 L495.2,268.62 L495.8,268.2 L496.4,267.61 L497,267.6 L497.6,267.75 L498.2,266.75 L498.8,267.12 L499.4,266.51 L500,266.33 L500.6,266.44 L501.2,265.85 L501.8,265.76 L502.4,265.73 L503,265.8 L503.6,265.03 L504.2,265.28 L504.8,264.98 L505.4,264.72 L506,264.18 L506.6,263.65 L507.2,262.91 L507.8,262.51 L508.4,261.98 L509,262.11 L509.6,261.23 L510.2,260.86 L510.8,260.49 L511.4,260.88 L512,260.62 L512.6,260.14 L513.2,259.5 L513.8,259.39 L514.4,259.47 L515,259.65 L515.6,259.41 L516.2,259.71 L516.8,259.58 L517.4,260.25 L518,260.32 L518.6,259.99 L519.2,259.78 L519.8,260.49 L520.4,259.95 L521,260.05 L521.6,259.7 L522.2,259.97 L522.8,259.98 L523.4,259.93 L524,259.58 L524.6,259.78 L525.2,259.25 L525.8,259.41 L526.4,259.12 L527,259.23 L527.6,258.75 L528.2,258.57 L528.8,258.65 L529.4,258.42 L530,258.58 L530.6,258.46 L531.2,258.59 L531.8,258.43 L532.4,258.41 L533,258.49 L533.6,257.98 L534.2,257.85 L534.8,258.38 L535.4,257.55 L536,258 L536.6,257.86 L537.2,257.25 L537.8,257.89 L538.4,257.87 L539,257.56 L539.6,257.58 L540.2,257.58 L540.8,256.91 L541.4,257.18 L542,257.08 L542.6,257.26 L543.2,257.12 L543.8,257.02 L544.4,256.68 L545,256.84 L545.6,256.54 L546.2,256.43 L546.8,255.89 L547.4,255.59 L548,255.57 L548.6,255.69 L549.2,255.55 L549.8,256.3 L550.4,256.15 L551,256.3 L551.6,256.4 L552.2,256.54 L552.8,256.46 L553.4,256.16 L554,257.03 L554.6,257.14 L555.2,257.07 L555.8,257.26 L556.4,257.53 L557,257.15 L557.6,257.91 L558.2,257.6 L558.8,257.53 L559.4,257.78 L560,258.28 L560.6,257.89 L561.2,258.46 L561.8,258.75 L562.4,258.4 L563,258.38 L563.6,258.55 L564.2,258.57 L564.8,258.34 L565.4,257.91 L566,257.63 L566.6,256.82 L567.2,256.52 L567.8,256.11 L568.4,256.05 L569,255.16 L569.6,254.89 L570.2,253.95 L570.8,253.65 L571.4,253.5 L572,253.52 L572.6,253.2 L573.2,252.9 L573.8,252.38 L574.4,252.41 L575,252.2 L575.6,252.03 L576.2,251.78 L576.8,252.67 L577.4,252.23 L578,253.12 L578.6,253.27 L579.2,252.62 L579.8,253.16 L580.4,253.64 L581,253.92 L581.6,253.6 L582.2,253.59 L582.8,253.69 L583.4,254.5 L584,253.98 L584.6,254.46 L585.2,254.21 L585.8,254.69 L586.4,255.22 L587,254.63 L587.6,255.39 L588.2,255.26 L588.8,255.77 L589.4,255.77 L590,255.52 L590.6,256.28 L591.2,256.08 L591.8,255.83 L592.4,255.98 L593,256.6 L593.6,256.74 L594.2,256.79 L594.8,256.82 L595.4,257.18 L596,257.34 L596.6,257.99 L597.2,257.43 L597.8,258.35 L598.4,258.67 L599,258.26 L599.6,259.22 L600.2,259.26 L600.8,259.65 L601.4,259.31 L602,259.6 L602.6,259.84 L603.2,260.6 L603.8,260.45 L604.4,260.46 L605,260.74 L605.6,260.86 L606.2,260.92 L606.8,261.23 L607.4,262.16 L608,261.93 L608.6,262.78 L609.2,262.42 L609.8,262.7 L610.4,263.21 L611,263.22 L611.6,263.69 L612.2,264.51 L612.8,264.75 L613.4,264.98 L614,265.12 L614.6,265.67 L615.2,266 L615.8,265.94 L616.4,266.4 L617,266.09 L617.6,267.01 L618.2,267.06 L618.8,267.63 L619.4,267.83 L620,267.81 L620.6,267.89 L621.2,268.98 L621.8,268.56 L622.4,269.17 L623,269.36 L623.6,269.62 L624.2,270.32 L624.8,270.83 L625.4,270.48 L626,271.14 L626.6,271.12 L627.2,271.65 L627.8,271.8 L628.4,271.9 L629,272.2 L629.6,272.64 L630.2,273.67 L630.8,273.7 L631.4,273.85 L632,274.87 L632.6,275.41 L633.2,275.37 L633.8,275.56 L634.4,276.06 L635,276.43 L635.6,277.26 L636.2,277.63 L636.8,278.37 L637.4,278.98 L638,279.86 L638.6,281.1 L639.2,281.92 L639.8,282.57 L640.4,283.52 L641,284.57 L641.6,285.5" stroke="#000" stroke-width="1.5" fill="none" stroke-linejoin="round"/>
</g>
<line x1="505.7" y1="264" x2="505.7" y2="272.4" stroke="#000" stroke-width="1.3" stroke-linecap="butt" />
<line x1="522.6" y1="260" x2="522.6" y2="274" stroke="#000" stroke-width="1.3" stroke-linecap="butt" />
<rect x="424.4" y="247.2" width="217.2" height="129.1" fill="none" stroke="#8a8a8a" stroke-width="1.2"/>
<line x1="424.4" y1="265.64" x2="426.6" y2="265.64" stroke="#6a6a6a" stroke-width="0.9" stroke-linecap="butt" />
<line x1="639.4" y1="265.64" x2="641.6" y2="265.64" stroke="#6a6a6a" stroke-width="0.9" stroke-linecap="butt" />
<line x1="424.4" y1="284.09" x2="426.6" y2="284.09" stroke="#6a6a6a" stroke-width="0.9" stroke-linecap="butt" />
<line x1="639.4" y1="284.09" x2="641.6" y2="284.09" stroke="#6a6a6a" stroke-width="0.9" stroke-linecap="butt" />
<line x1="424.4" y1="302.53" x2="426.6" y2="302.53" stroke="#6a6a6a" stroke-width="0.9" stroke-linecap="butt" />
<line x1="639.4" y1="302.53" x2="641.6" y2="302.53" stroke="#6a6a6a" stroke-width="0.9" stroke-linecap="butt" />
<line x1="424.4" y1="320.97" x2="426.6" y2="320.97" stroke="#6a6a6a" stroke-width="0.9" stroke-linecap="butt" />
<line x1="639.4" y1="320.97" x2="641.6" y2="320.97" stroke="#6a6a6a" stroke-width="0.9" stroke-linecap="butt" />
<line x1="424.4" y1="339.41" x2="426.6" y2="339.41" stroke="#6a6a6a" stroke-width="0.9" stroke-linecap="butt" />
<line x1="639.4" y1="339.41" x2="641.6" y2="339.41" stroke="#6a6a6a" stroke-width="0.9" stroke-linecap="butt" />
<line x1="424.4" y1="357.86" x2="426.6" y2="357.86" stroke="#6a6a6a" stroke-width="0.9" stroke-linecap="butt" />
<line x1="639.4" y1="357.86" x2="641.6" y2="357.86" stroke="#6a6a6a" stroke-width="0.9" stroke-linecap="butt" />
<line x1="434.97" y1="247.2" x2="434.97" y2="249.4" stroke="#6a6a6a" stroke-width="0.9" stroke-linecap="butt" />
<line x1="434.97" y1="374.1" x2="434.97" y2="376.3" stroke="#6a6a6a" stroke-width="0.9" stroke-linecap="butt" />
<line x1="463.4" y1="247.2" x2="463.4" y2="249.4" stroke="#6a6a6a" stroke-width="0.9" stroke-linecap="butt" />
<line x1="463.4" y1="374.1" x2="463.4" y2="376.3" stroke="#6a6a6a" stroke-width="0.9" stroke-linecap="butt" />
<line x1="491.82" y1="247.2" x2="491.82" y2="249.4" stroke="#6a6a6a" stroke-width="0.9" stroke-linecap="butt" />
<line x1="491.82" y1="374.1" x2="491.82" y2="376.3" stroke="#6a6a6a" stroke-width="0.9" stroke-linecap="butt" />
<line x1="520.25" y1="247.2" x2="520.25" y2="249.4" stroke="#6a6a6a" stroke-width="0.9" stroke-linecap="butt" />
<line x1="520.25" y1="374.1" x2="520.25" y2="376.3" stroke="#6a6a6a" stroke-width="0.9" stroke-linecap="butt" />
<line x1="548.67" y1="247.2" x2="548.67" y2="249.4" stroke="#6a6a6a" stroke-width="0.9" stroke-linecap="butt" />
<line x1="548.67" y1="374.1" x2="548.67" y2="376.3" stroke="#6a6a6a" stroke-width="0.9" stroke-linecap="butt" />
<line x1="577.1" y1="247.2" x2="577.1" y2="249.4" stroke="#6a6a6a" stroke-width="0.9" stroke-linecap="butt" />
<line x1="577.1" y1="374.1" x2="577.1" y2="376.3" stroke="#6a6a6a" stroke-width="0.9" stroke-linecap="butt" />
<line x1="605.52" y1="247.2" x2="605.52" y2="249.4" stroke="#6a6a6a" stroke-width="0.9" stroke-linecap="butt" />
<line x1="605.52" y1="374.1" x2="605.52" y2="376.3" stroke="#6a6a6a" stroke-width="0.9" stroke-linecap="butt" />
<line x1="633.95" y1="247.2" x2="633.95" y2="249.4" stroke="#6a6a6a" stroke-width="0.9" stroke-linecap="butt" />
<line x1="633.95" y1="374.1" x2="633.95" y2="376.3" stroke="#6a6a6a" stroke-width="0.9" stroke-linecap="butt" />
<text transform="translate(437.1,269.8) scale(0.94,1)" font-family="Liberation Sans" font-size="11.9">EDPHS</text>
<line x1="458" y1="272.2" x2="467.1" y2="287.8" stroke="#000" stroke-width="1.2" stroke-linecap="butt" stroke-dasharray="2.6,1.6" />
<text x="394.8" y="252.3" font-family="Liberation Sans" font-size="13.4" font-weight="normal" font-style="normal" fill="#000" text-anchor="start" >Max</text>
<text x="414.2" y="381" font-family="Liberation Sans" font-size="13.1" font-weight="normal" font-style="normal" fill="#000" text-anchor="start" >0</text>
<text x="463.6" y="390" font-family="Liberation Sans" font-size="13.1" font-weight="normal" font-style="normal" fill="#000" text-anchor="middle" >600</text>
<text x="519" y="390" font-family="Liberation Sans" font-size="13.1" font-weight="normal" font-style="normal" fill="#000" text-anchor="middle" >700</text>
<text x="575" y="390" font-family="Liberation Sans" font-size="13.1" font-weight="normal" font-style="normal" fill="#000" text-anchor="middle" >800</text>
<text x="631.3" y="390" font-family="Liberation Sans" font-size="13.1" font-weight="normal" font-style="normal" fill="#000" text-anchor="middle" >900</text>
<text x="490.5" y="404.4" font-family="Liberation Sans" font-size="13.1" font-weight="normal" font-style="normal" fill="#000" text-anchor="start" >Wavelength (nm)</text>
<text transform="translate(387.4,382.0) rotate(-90) scale(0.92,1)" font-family="Liberation Sans" font-size="14.2" x="0" y="0">CL Intensity (arb. units)</text>
<text transform="translate(646.1,323.1) scale(1.25,1)" font-family="Liberation Serif" font-style="italic" font-size="13">&#952;</text>
<text x="658.6" y="323.2" font-family="Liberation Serif" font-size="16">=</text>
<text x="651.8" y="340.3" font-family="Liberation Serif" font-size="14.6" font-weight="normal" font-style="normal" fill="#7030a0" text-anchor="start" >47.2°</text>
<text x="652.8" y="356.6" font-family="Liberation Serif" font-size="14.6" font-weight="normal" font-style="normal" fill="#e0601c" text-anchor="start" >25.4°</text>
<text x="657" y="373.5" font-family="Liberation Serif" font-size="14.6" font-weight="normal" font-style="normal" fill="#4472c4" text-anchor="start" >4.4 °</text>
</svg>
</body></html>
